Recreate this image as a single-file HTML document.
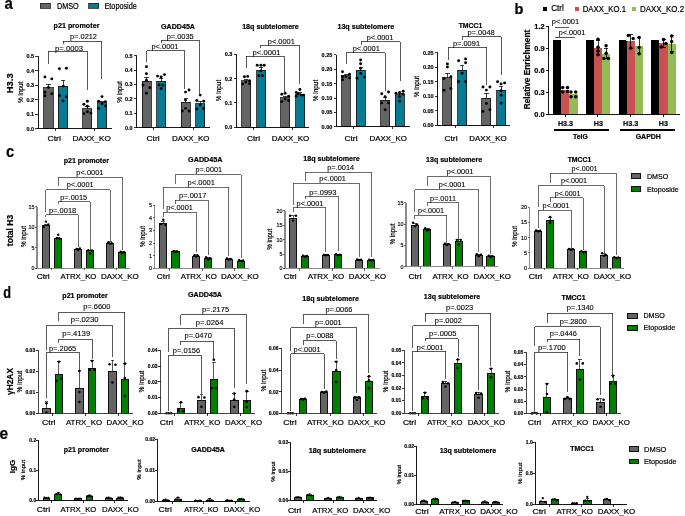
<!DOCTYPE html>
<html><head><meta charset="utf-8"><style>
html,body{margin:0;padding:0;background:#fff;}
svg{display:block;font-family:"Liberation Sans", sans-serif;will-change:transform;}
text{stroke:#000;stroke-width:0.2px;}
text.tk{stroke-width:0.15px;}
text.pv{stroke-width:0.1px;}
line,rect,path{shape-rendering:crispEdges;}
</style></head><body>
<svg width="685" height="516" viewBox="0 0 685 516">
<rect width="685" height="516" fill="#fff"/>
<text x="4.50" y="8.70" font-size="16" font-weight="bold" textLength="8.30" lengthAdjust="spacingAndGlyphs" fill="#000">a</text>
<text x="514.60" y="13.80" font-size="14.5" font-weight="bold" fill="#000">b</text>
<text x="6.10" y="157.20" font-size="16.2" font-weight="bold" textLength="8.20" lengthAdjust="spacingAndGlyphs" fill="#000">c</text>
<text x="3.20" y="297.90" font-size="15.8" font-weight="bold" textLength="7.80" lengthAdjust="spacingAndGlyphs" fill="#000">d</text>
<text x="-0.50" y="439.20" font-size="15.6" font-weight="bold" textLength="8.60" lengthAdjust="spacingAndGlyphs" fill="#000">e</text>
<rect x="40.40" y="3.40" width="10.00" height="5.00" fill="#646464" stroke="#222" stroke-width="0.8"/>
<text x="56.90" y="8.90" font-size="8.2" textLength="21.90" lengthAdjust="spacingAndGlyphs" fill="#000">DMSO</text>
<rect x="88.50" y="3.40" width="10.00" height="5.00" fill="#087b94" stroke="#222" stroke-width="0.8"/>
<text x="104.50" y="8.90" font-size="8.2" textLength="32.30" lengthAdjust="spacingAndGlyphs" fill="#000">Etoposide</text>
<text x="12.80" y="83.30" font-size="9.3" text-anchor="middle" font-weight="bold" transform="rotate(-90 12.80 83.30)" textLength="19.80" lengthAdjust="spacingAndGlyphs" fill="#000">H3.3</text>
<line x1="38.00" y1="56.10" x2="38.00" y2="129.00" stroke="#000" stroke-width="0.9"/>
<line x1="35.40" y1="128.60" x2="38.00" y2="128.60" stroke="#000" stroke-width="0.8"/>
<text x="34.20" y="130.58" font-size="5.5" text-anchor="end" font-weight="bold" class="tk" fill="#000">0.0</text>
<line x1="35.40" y1="114.10" x2="38.00" y2="114.10" stroke="#000" stroke-width="0.8"/>
<text x="34.20" y="116.08" font-size="5.5" text-anchor="end" font-weight="bold" class="tk" fill="#000">0.1</text>
<line x1="35.40" y1="99.60" x2="38.00" y2="99.60" stroke="#000" stroke-width="0.8"/>
<text x="34.20" y="101.58" font-size="5.5" text-anchor="end" font-weight="bold" class="tk" fill="#000">0.2</text>
<line x1="35.40" y1="85.10" x2="38.00" y2="85.10" stroke="#000" stroke-width="0.8"/>
<text x="34.20" y="87.08" font-size="5.5" text-anchor="end" font-weight="bold" class="tk" fill="#000">0.3</text>
<line x1="35.40" y1="70.60" x2="38.00" y2="70.60" stroke="#000" stroke-width="0.8"/>
<text x="34.20" y="72.58" font-size="5.5" text-anchor="end" font-weight="bold" class="tk" fill="#000">0.4</text>
<line x1="35.40" y1="56.10" x2="38.00" y2="56.10" stroke="#000" stroke-width="0.8"/>
<text x="34.20" y="58.08" font-size="5.5" text-anchor="end" font-weight="bold" class="tk" fill="#000">0.5</text>
<rect x="43.80" y="87.60" width="9.20" height="41.00" fill="#646464" stroke="#111" stroke-width="0.8"/>
<line x1="48.40" y1="87.60" x2="48.40" y2="84.30" stroke="#111" stroke-width="0.8"/>
<line x1="46.20" y1="84.30" x2="50.60" y2="84.30" stroke="#111" stroke-width="0.8"/>
<circle cx="44.90" cy="76.90" r="1.45" fill="#000"/>
<circle cx="51.80" cy="78.90" r="1.45" fill="#000"/>
<circle cx="48.40" cy="87.40" r="1.45" fill="#000"/>
<circle cx="44.90" cy="92.20" r="1.45" fill="#000"/>
<circle cx="51.80" cy="93.70" r="1.45" fill="#000"/>
<circle cx="44.90" cy="95.80" r="1.45" fill="#000"/>
<rect x="58.30" y="86.40" width="9.50" height="42.20" fill="#087b94" stroke="#111" stroke-width="0.8"/>
<line x1="63.05" y1="86.40" x2="63.05" y2="80.40" stroke="#111" stroke-width="0.8"/>
<line x1="60.85" y1="80.40" x2="65.25" y2="80.40" stroke="#111" stroke-width="0.8"/>
<circle cx="59.40" cy="68.70" r="1.45" fill="#000"/>
<circle cx="66.40" cy="68.20" r="1.45" fill="#000"/>
<circle cx="63.30" cy="86.10" r="1.45" fill="#000"/>
<circle cx="59.40" cy="95.60" r="1.45" fill="#000"/>
<circle cx="66.40" cy="96.80" r="1.45" fill="#000"/>
<circle cx="63.00" cy="100.90" r="1.45" fill="#000"/>
<rect x="82.80" y="108.60" width="9.00" height="20.00" fill="#646464" stroke="#111" stroke-width="0.8"/>
<line x1="87.30" y1="108.60" x2="87.30" y2="106.70" stroke="#111" stroke-width="0.8"/>
<line x1="85.10" y1="106.70" x2="89.50" y2="106.70" stroke="#111" stroke-width="0.8"/>
<circle cx="87.40" cy="101.20" r="1.45" fill="#000"/>
<circle cx="83.90" cy="104.30" r="1.45" fill="#000"/>
<circle cx="87.40" cy="106.30" r="1.45" fill="#000"/>
<circle cx="87.40" cy="111.70" r="1.45" fill="#000"/>
<circle cx="83.90" cy="113.60" r="1.45" fill="#000"/>
<circle cx="90.90" cy="113.10" r="1.45" fill="#000"/>
<rect x="97.60" y="102.80" width="9.00" height="25.80" fill="#087b94" stroke="#111" stroke-width="0.8"/>
<line x1="102.10" y1="102.80" x2="102.10" y2="101.40" stroke="#111" stroke-width="0.8"/>
<line x1="99.90" y1="101.40" x2="104.30" y2="101.40" stroke="#111" stroke-width="0.8"/>
<circle cx="102.00" cy="96.60" r="1.45" fill="#000"/>
<circle cx="98.60" cy="101.20" r="1.45" fill="#000"/>
<circle cx="105.40" cy="101.60" r="1.45" fill="#000"/>
<circle cx="102.00" cy="103.80" r="1.45" fill="#000"/>
<circle cx="105.40" cy="105.90" r="1.45" fill="#000"/>
<circle cx="98.60" cy="108.40" r="1.45" fill="#000"/>
<line x1="37.55" y1="128.60" x2="111.70" y2="128.60" stroke="#000" stroke-width="0.9"/>
<line x1="55.80" y1="128.60" x2="55.80" y2="131.20" stroke="#000" stroke-width="0.8"/>
<line x1="94.60" y1="128.60" x2="94.60" y2="131.20" stroke="#000" stroke-width="0.8"/>
<text x="54.20" y="140.80" font-size="7.3" text-anchor="middle" textLength="13.50" lengthAdjust="spacingAndGlyphs" fill="#000">Ctrl</text>
<text x="91.60" y="140.80" font-size="7.3" text-anchor="middle" textLength="38.40" lengthAdjust="spacingAndGlyphs" fill="#000">DAXX_KO</text>
<text x="76.50" y="27.60" font-size="7.5" text-anchor="middle" font-weight="bold" textLength="45.90" lengthAdjust="spacingAndGlyphs" fill="#000">p21 promoter</text>
<text x="23.30" y="92.30" font-size="6.6" text-anchor="middle" transform="rotate(-90 23.30 92.30)" textLength="21.50" lengthAdjust="spacingAndGlyphs" fill="#000">% input</text>
<path d="M48.40,64.00 L48.40,51.40 L87.30,51.40 L87.30,89.70" fill="none" stroke="#222" stroke-width="0.75"/>
<text x="69.00" y="50.50" font-size="7.7" text-anchor="middle" textLength="28.00" lengthAdjust="spacingAndGlyphs" class="pv" fill="#000">p=.0003</text>
<path d="M63.00,43.60 L63.00,41.00 L101.50,41.00 L101.50,79.20" fill="none" stroke="#222" stroke-width="0.75"/>
<text x="83.50" y="39.30" font-size="7.7" text-anchor="middle" textLength="27.00" lengthAdjust="spacingAndGlyphs" class="pv" fill="#000">p=.0212</text>
<line x1="136.50" y1="55.55" x2="136.50" y2="128.20" stroke="#000" stroke-width="0.9"/>
<line x1="133.90" y1="127.80" x2="136.50" y2="127.80" stroke="#000" stroke-width="0.8"/>
<text x="132.70" y="129.78" font-size="5.5" text-anchor="end" font-weight="bold" class="tk" fill="#000">0.0</text>
<line x1="133.90" y1="113.35" x2="136.50" y2="113.35" stroke="#000" stroke-width="0.8"/>
<text x="132.70" y="115.33" font-size="5.5" text-anchor="end" font-weight="bold" class="tk" fill="#000">0.1</text>
<line x1="133.90" y1="98.90" x2="136.50" y2="98.90" stroke="#000" stroke-width="0.8"/>
<text x="132.70" y="100.88" font-size="5.5" text-anchor="end" font-weight="bold" class="tk" fill="#000">0.2</text>
<line x1="133.90" y1="84.45" x2="136.50" y2="84.45" stroke="#000" stroke-width="0.8"/>
<text x="132.70" y="86.43" font-size="5.5" text-anchor="end" font-weight="bold" class="tk" fill="#000">0.3</text>
<line x1="133.90" y1="70.00" x2="136.50" y2="70.00" stroke="#000" stroke-width="0.8"/>
<text x="132.70" y="71.98" font-size="5.5" text-anchor="end" font-weight="bold" class="tk" fill="#000">0.4</text>
<line x1="133.90" y1="55.55" x2="136.50" y2="55.55" stroke="#000" stroke-width="0.8"/>
<text x="132.70" y="57.53" font-size="5.5" text-anchor="end" font-weight="bold" class="tk" fill="#000">0.5</text>
<rect x="142.10" y="81.10" width="8.90" height="46.70" fill="#646464" stroke="#111" stroke-width="0.8"/>
<line x1="146.55" y1="81.10" x2="146.55" y2="77.20" stroke="#111" stroke-width="0.8"/>
<line x1="144.35" y1="77.20" x2="148.75" y2="77.20" stroke="#111" stroke-width="0.8"/>
<circle cx="146.40" cy="66.80" r="1.45" fill="#000"/>
<circle cx="146.40" cy="73.80" r="1.45" fill="#000"/>
<circle cx="146.40" cy="80.30" r="1.45" fill="#000"/>
<circle cx="143.00" cy="85.00" r="1.45" fill="#000"/>
<circle cx="149.80" cy="87.80" r="1.45" fill="#000"/>
<circle cx="146.40" cy="93.30" r="1.45" fill="#000"/>
<rect x="156.60" y="81.30" width="9.00" height="46.50" fill="#087b94" stroke="#111" stroke-width="0.8"/>
<line x1="161.10" y1="81.30" x2="161.10" y2="78.40" stroke="#111" stroke-width="0.8"/>
<line x1="158.90" y1="78.40" x2="163.30" y2="78.40" stroke="#111" stroke-width="0.8"/>
<circle cx="157.60" cy="76.10" r="1.45" fill="#000"/>
<circle cx="161.10" cy="76.90" r="1.45" fill="#000"/>
<circle cx="164.50" cy="74.60" r="1.45" fill="#000"/>
<circle cx="159.10" cy="85.00" r="1.45" fill="#000"/>
<circle cx="162.80" cy="85.20" r="1.45" fill="#000"/>
<circle cx="161.10" cy="88.50" r="1.45" fill="#000"/>
<rect x="181.30" y="102.40" width="9.10" height="25.40" fill="#646464" stroke="#111" stroke-width="0.8"/>
<line x1="185.85" y1="102.40" x2="185.85" y2="98.60" stroke="#111" stroke-width="0.8"/>
<line x1="183.65" y1="98.60" x2="188.05" y2="98.60" stroke="#111" stroke-width="0.8"/>
<circle cx="185.50" cy="92.10" r="1.45" fill="#000"/>
<circle cx="189.00" cy="90.00" r="1.45" fill="#000"/>
<circle cx="185.50" cy="100.10" r="1.45" fill="#000"/>
<circle cx="185.50" cy="108.40" r="1.45" fill="#000"/>
<circle cx="182.30" cy="111.00" r="1.45" fill="#000"/>
<circle cx="189.00" cy="111.00" r="1.45" fill="#000"/>
<rect x="195.60" y="103.60" width="8.90" height="24.20" fill="#087b94" stroke="#111" stroke-width="0.8"/>
<line x1="200.05" y1="103.60" x2="200.05" y2="101.30" stroke="#111" stroke-width="0.8"/>
<line x1="197.85" y1="101.30" x2="202.25" y2="101.30" stroke="#111" stroke-width="0.8"/>
<circle cx="200.20" cy="95.10" r="1.45" fill="#000"/>
<circle cx="196.80" cy="100.50" r="1.45" fill="#000"/>
<circle cx="203.70" cy="101.30" r="1.45" fill="#000"/>
<circle cx="200.20" cy="105.00" r="1.45" fill="#000"/>
<circle cx="196.80" cy="108.90" r="1.45" fill="#000"/>
<circle cx="203.70" cy="108.40" r="1.45" fill="#000"/>
<line x1="136.05" y1="127.80" x2="209.80" y2="127.80" stroke="#000" stroke-width="0.9"/>
<line x1="153.80" y1="127.80" x2="153.80" y2="130.40" stroke="#000" stroke-width="0.8"/>
<line x1="193.20" y1="127.80" x2="193.20" y2="130.40" stroke="#000" stroke-width="0.8"/>
<text x="153.10" y="140.80" font-size="7.3" text-anchor="middle" textLength="13.10" lengthAdjust="spacingAndGlyphs" fill="#000">Ctrl</text>
<text x="190.80" y="140.80" font-size="7.3" text-anchor="middle" textLength="37.50" lengthAdjust="spacingAndGlyphs" fill="#000">DAXX_KO</text>
<text x="178.00" y="29.00" font-size="7.5" text-anchor="middle" font-weight="bold" textLength="34.00" lengthAdjust="spacingAndGlyphs" fill="#000">GADD45A</text>
<text x="121.70" y="92.00" font-size="6.6" text-anchor="middle" transform="rotate(-90 121.70 92.00)" textLength="21.50" lengthAdjust="spacingAndGlyphs" fill="#000">% input</text>
<path d="M146.60,62.40 L146.60,50.70 L184.90,50.70 L184.90,89.40" fill="none" stroke="#222" stroke-width="0.75"/>
<text x="165.00" y="49.00" font-size="7.7" text-anchor="middle" textLength="27.00" lengthAdjust="spacingAndGlyphs" class="pv" fill="#000">p&lt;.0001</text>
<path d="M161.00,43.20 L161.00,40.20 L199.30,40.20 L199.30,95.50" fill="none" stroke="#222" stroke-width="0.75"/>
<text x="180.20" y="38.90" font-size="7.7" text-anchor="middle" textLength="27.10" lengthAdjust="spacingAndGlyphs" class="pv" fill="#000">p=.0035</text>
<line x1="236.10" y1="54.45" x2="236.10" y2="127.60" stroke="#000" stroke-width="0.9"/>
<line x1="233.50" y1="127.20" x2="236.10" y2="127.20" stroke="#000" stroke-width="0.8"/>
<text x="232.30" y="129.18" font-size="5.5" text-anchor="end" font-weight="bold" class="tk" fill="#000">0.0</text>
<line x1="233.50" y1="102.95" x2="236.10" y2="102.95" stroke="#000" stroke-width="0.8"/>
<text x="232.30" y="104.93" font-size="5.5" text-anchor="end" font-weight="bold" class="tk" fill="#000">0.1</text>
<line x1="233.50" y1="78.70" x2="236.10" y2="78.70" stroke="#000" stroke-width="0.8"/>
<text x="232.30" y="80.68" font-size="5.5" text-anchor="end" font-weight="bold" class="tk" fill="#000">0.2</text>
<line x1="233.50" y1="54.45" x2="236.10" y2="54.45" stroke="#000" stroke-width="0.8"/>
<text x="232.30" y="56.43" font-size="5.5" text-anchor="end" font-weight="bold" class="tk" fill="#000">0.3</text>
<rect x="241.50" y="80.80" width="9.10" height="46.40" fill="#646464" stroke="#111" stroke-width="0.8"/>
<line x1="246.05" y1="80.80" x2="246.05" y2="79.20" stroke="#111" stroke-width="0.8"/>
<line x1="243.85" y1="79.20" x2="248.25" y2="79.20" stroke="#111" stroke-width="0.8"/>
<circle cx="244.40" cy="76.70" r="1.45" fill="#000"/>
<circle cx="247.70" cy="76.40" r="1.45" fill="#000"/>
<circle cx="245.80" cy="82.10" r="1.45" fill="#000"/>
<circle cx="249.50" cy="80.80" r="1.45" fill="#000"/>
<circle cx="242.70" cy="84.00" r="1.45" fill="#000"/>
<circle cx="249.50" cy="83.60" r="1.45" fill="#000"/>
<rect x="256.60" y="70.10" width="9.00" height="57.10" fill="#087b94" stroke="#111" stroke-width="0.8"/>
<line x1="261.10" y1="70.10" x2="261.10" y2="67.40" stroke="#111" stroke-width="0.8"/>
<line x1="258.90" y1="67.40" x2="263.30" y2="67.40" stroke="#111" stroke-width="0.8"/>
<circle cx="257.20" cy="65.30" r="1.45" fill="#000"/>
<circle cx="260.90" cy="65.30" r="1.45" fill="#000"/>
<circle cx="264.20" cy="65.30" r="1.45" fill="#000"/>
<circle cx="260.90" cy="70.90" r="1.45" fill="#000"/>
<circle cx="258.90" cy="75.70" r="1.45" fill="#000"/>
<circle cx="262.40" cy="75.70" r="1.45" fill="#000"/>
<rect x="280.50" y="97.80" width="9.10" height="29.40" fill="#646464" stroke="#111" stroke-width="0.8"/>
<line x1="285.05" y1="97.80" x2="285.05" y2="96.70" stroke="#111" stroke-width="0.8"/>
<line x1="282.85" y1="96.70" x2="287.25" y2="96.70" stroke="#111" stroke-width="0.8"/>
<circle cx="281.80" cy="94.30" r="1.45" fill="#000"/>
<circle cx="285.10" cy="93.30" r="1.45" fill="#000"/>
<circle cx="288.60" cy="96.30" r="1.45" fill="#000"/>
<circle cx="285.10" cy="99.00" r="1.45" fill="#000"/>
<circle cx="281.80" cy="101.60" r="1.45" fill="#000"/>
<circle cx="288.60" cy="100.50" r="1.45" fill="#000"/>
<rect x="295.60" y="94.30" width="9.00" height="32.90" fill="#087b94" stroke="#111" stroke-width="0.8"/>
<line x1="300.10" y1="94.30" x2="300.10" y2="92.60" stroke="#111" stroke-width="0.8"/>
<line x1="297.90" y1="92.60" x2="302.30" y2="92.60" stroke="#111" stroke-width="0.8"/>
<circle cx="299.90" cy="89.50" r="1.45" fill="#000"/>
<circle cx="296.20" cy="92.40" r="1.45" fill="#000"/>
<circle cx="298.30" cy="93.60" r="1.45" fill="#000"/>
<circle cx="301.40" cy="95.10" r="1.45" fill="#000"/>
<circle cx="303.40" cy="95.10" r="1.45" fill="#000"/>
<circle cx="296.20" cy="96.30" r="1.45" fill="#000"/>
<line x1="235.65" y1="127.20" x2="309.40" y2="127.20" stroke="#000" stroke-width="0.9"/>
<line x1="253.60" y1="127.20" x2="253.60" y2="129.80" stroke="#000" stroke-width="0.8"/>
<line x1="292.60" y1="127.20" x2="292.60" y2="129.80" stroke="#000" stroke-width="0.8"/>
<text x="253.50" y="140.80" font-size="7.3" text-anchor="middle" textLength="13.10" lengthAdjust="spacingAndGlyphs" fill="#000">Ctrl</text>
<text x="290.50" y="140.80" font-size="7.3" text-anchor="middle" textLength="37.70" lengthAdjust="spacingAndGlyphs" fill="#000">DAXX_KO</text>
<text x="270.50" y="29.30" font-size="7.5" text-anchor="middle" font-weight="bold" textLength="56.70" lengthAdjust="spacingAndGlyphs" fill="#000">18q subtelomere</text>
<text x="221.30" y="90.50" font-size="6.6" text-anchor="middle" transform="rotate(-90 221.30 90.50)" textLength="21.50" lengthAdjust="spacingAndGlyphs" fill="#000">% input</text>
<path d="M246.00,67.90 L246.00,56.20 L284.30,56.20 L284.30,94.00" fill="none" stroke="#222" stroke-width="0.75"/>
<text x="266.50" y="54.50" font-size="7.7" text-anchor="middle" textLength="27.90" lengthAdjust="spacingAndGlyphs" class="pv" fill="#000">p&lt;.0001</text>
<path d="M260.80,47.80 L260.80,45.40 L299.10,45.40 L299.10,83.60" fill="none" stroke="#222" stroke-width="0.75"/>
<text x="281.30" y="43.70" font-size="7.7" text-anchor="middle" textLength="27.10" lengthAdjust="spacingAndGlyphs" class="pv" fill="#000">p&lt;.0001</text>
<line x1="336.10" y1="54.80" x2="336.10" y2="127.20" stroke="#000" stroke-width="0.9"/>
<line x1="333.50" y1="126.80" x2="336.10" y2="126.80" stroke="#000" stroke-width="0.8"/>
<text x="332.30" y="128.78" font-size="5.5" text-anchor="end" font-weight="bold" class="tk" fill="#000">0.00</text>
<line x1="333.50" y1="112.40" x2="336.10" y2="112.40" stroke="#000" stroke-width="0.8"/>
<text x="332.30" y="114.38" font-size="5.5" text-anchor="end" font-weight="bold" class="tk" fill="#000">0.05</text>
<line x1="333.50" y1="98.00" x2="336.10" y2="98.00" stroke="#000" stroke-width="0.8"/>
<text x="332.30" y="99.98" font-size="5.5" text-anchor="end" font-weight="bold" class="tk" fill="#000">0.10</text>
<line x1="333.50" y1="83.60" x2="336.10" y2="83.60" stroke="#000" stroke-width="0.8"/>
<text x="332.30" y="85.58" font-size="5.5" text-anchor="end" font-weight="bold" class="tk" fill="#000">0.15</text>
<line x1="333.50" y1="69.20" x2="336.10" y2="69.20" stroke="#000" stroke-width="0.8"/>
<text x="332.30" y="71.18" font-size="5.5" text-anchor="end" font-weight="bold" class="tk" fill="#000">0.20</text>
<line x1="333.50" y1="54.80" x2="336.10" y2="54.80" stroke="#000" stroke-width="0.8"/>
<text x="332.30" y="56.78" font-size="5.5" text-anchor="end" font-weight="bold" class="tk" fill="#000">0.25</text>
<rect x="341.50" y="75.80" width="8.90" height="51.00" fill="#646464" stroke="#111" stroke-width="0.8"/>
<line x1="345.95" y1="75.80" x2="345.95" y2="74.80" stroke="#111" stroke-width="0.8"/>
<line x1="343.75" y1="74.80" x2="348.15" y2="74.80" stroke="#111" stroke-width="0.8"/>
<circle cx="342.50" cy="71.70" r="1.45" fill="#000"/>
<circle cx="349.50" cy="74.20" r="1.45" fill="#000"/>
<circle cx="342.50" cy="76.70" r="1.45" fill="#000"/>
<circle cx="345.90" cy="76.60" r="1.45" fill="#000"/>
<circle cx="349.50" cy="77.90" r="1.45" fill="#000"/>
<circle cx="342.50" cy="79.80" r="1.45" fill="#000"/>
<rect x="356.40" y="70.30" width="8.90" height="56.50" fill="#087b94" stroke="#111" stroke-width="0.8"/>
<line x1="360.85" y1="70.30" x2="360.85" y2="67.20" stroke="#111" stroke-width="0.8"/>
<line x1="358.65" y1="67.20" x2="363.05" y2="67.20" stroke="#111" stroke-width="0.8"/>
<circle cx="360.60" cy="60.00" r="1.45" fill="#000"/>
<circle cx="360.60" cy="63.70" r="1.45" fill="#000"/>
<circle cx="360.60" cy="68.30" r="1.45" fill="#000"/>
<circle cx="360.60" cy="73.40" r="1.45" fill="#000"/>
<circle cx="357.00" cy="78.30" r="1.45" fill="#000"/>
<circle cx="364.20" cy="77.10" r="1.45" fill="#000"/>
<rect x="380.50" y="100.30" width="9.10" height="26.50" fill="#646464" stroke="#111" stroke-width="0.8"/>
<line x1="385.05" y1="100.30" x2="385.05" y2="97.40" stroke="#111" stroke-width="0.8"/>
<line x1="382.85" y1="97.40" x2="387.25" y2="97.40" stroke="#111" stroke-width="0.8"/>
<circle cx="381.70" cy="93.80" r="1.45" fill="#000"/>
<circle cx="388.50" cy="92.00" r="1.45" fill="#000"/>
<circle cx="385.10" cy="96.70" r="1.45" fill="#000"/>
<circle cx="381.70" cy="102.90" r="1.45" fill="#000"/>
<circle cx="388.50" cy="102.90" r="1.45" fill="#000"/>
<circle cx="385.10" cy="109.80" r="1.45" fill="#000"/>
<rect x="395.40" y="94.70" width="8.90" height="32.10" fill="#087b94" stroke="#111" stroke-width="0.8"/>
<line x1="399.85" y1="94.70" x2="399.85" y2="93.80" stroke="#111" stroke-width="0.8"/>
<line x1="397.65" y1="93.80" x2="402.05" y2="93.80" stroke="#111" stroke-width="0.8"/>
<circle cx="396.00" cy="93.30" r="1.45" fill="#000"/>
<circle cx="399.60" cy="92.40" r="1.45" fill="#000"/>
<circle cx="403.20" cy="91.20" r="1.45" fill="#000"/>
<circle cx="403.20" cy="94.30" r="1.45" fill="#000"/>
<circle cx="399.60" cy="96.70" r="1.45" fill="#000"/>
<circle cx="399.60" cy="101.30" r="1.45" fill="#000"/>
<line x1="335.65" y1="126.80" x2="409.60" y2="126.80" stroke="#000" stroke-width="0.9"/>
<line x1="353.50" y1="126.80" x2="353.50" y2="129.40" stroke="#000" stroke-width="0.8"/>
<line x1="392.60" y1="126.80" x2="392.60" y2="129.40" stroke="#000" stroke-width="0.8"/>
<text x="351.00" y="140.80" font-size="7.3" text-anchor="middle" textLength="13.10" lengthAdjust="spacingAndGlyphs" fill="#000">Ctrl</text>
<text x="388.20" y="140.80" font-size="7.3" text-anchor="middle" textLength="37.30" lengthAdjust="spacingAndGlyphs" fill="#000">DAXX_KO</text>
<text x="365.80" y="29.00" font-size="7.5" text-anchor="middle" font-weight="bold" textLength="56.70" lengthAdjust="spacingAndGlyphs" fill="#000">13q subtelomere</text>
<text x="318.20" y="90.50" font-size="6.6" text-anchor="middle" transform="rotate(-90 318.20 90.50)" textLength="21.50" lengthAdjust="spacingAndGlyphs" fill="#000">% input</text>
<path d="M346.20,64.00 L346.20,52.50 L385.20,52.50 L385.20,91.00" fill="none" stroke="#222" stroke-width="0.75"/>
<text x="366.30" y="50.80" font-size="7.7" text-anchor="middle" textLength="27.20" lengthAdjust="spacingAndGlyphs" class="pv" fill="#000">p&lt;.0001</text>
<path d="M361.00,44.70 L361.00,41.90 L400.10,41.90 L400.10,80.70" fill="none" stroke="#222" stroke-width="0.75"/>
<text x="380.10" y="40.20" font-size="7.7" text-anchor="middle" textLength="26.60" lengthAdjust="spacingAndGlyphs" class="pv" fill="#000">p&lt;.0001</text>
<line x1="437.50" y1="52.90" x2="437.50" y2="125.80" stroke="#000" stroke-width="0.9"/>
<line x1="434.90" y1="125.40" x2="437.50" y2="125.40" stroke="#000" stroke-width="0.8"/>
<text x="433.70" y="127.38" font-size="5.5" text-anchor="end" font-weight="bold" class="tk" fill="#000">0.00</text>
<line x1="434.90" y1="110.90" x2="437.50" y2="110.90" stroke="#000" stroke-width="0.8"/>
<text x="433.70" y="112.88" font-size="5.5" text-anchor="end" font-weight="bold" class="tk" fill="#000">0.05</text>
<line x1="434.90" y1="96.40" x2="437.50" y2="96.40" stroke="#000" stroke-width="0.8"/>
<text x="433.70" y="98.38" font-size="5.5" text-anchor="end" font-weight="bold" class="tk" fill="#000">0.10</text>
<line x1="434.90" y1="81.90" x2="437.50" y2="81.90" stroke="#000" stroke-width="0.8"/>
<text x="433.70" y="83.88" font-size="5.5" text-anchor="end" font-weight="bold" class="tk" fill="#000">0.15</text>
<line x1="434.90" y1="67.40" x2="437.50" y2="67.40" stroke="#000" stroke-width="0.8"/>
<text x="433.70" y="69.38" font-size="5.5" text-anchor="end" font-weight="bold" class="tk" fill="#000">0.20</text>
<line x1="434.90" y1="52.90" x2="437.50" y2="52.90" stroke="#000" stroke-width="0.8"/>
<text x="433.70" y="54.88" font-size="5.5" text-anchor="end" font-weight="bold" class="tk" fill="#000">0.25</text>
<rect x="442.90" y="77.50" width="8.90" height="47.90" fill="#646464" stroke="#111" stroke-width="0.8"/>
<line x1="447.35" y1="77.50" x2="447.35" y2="73.40" stroke="#111" stroke-width="0.8"/>
<line x1="445.15" y1="73.40" x2="449.55" y2="73.40" stroke="#111" stroke-width="0.8"/>
<circle cx="447.40" cy="63.90" r="1.45" fill="#000"/>
<circle cx="447.40" cy="67.00" r="1.45" fill="#000"/>
<circle cx="444.00" cy="78.60" r="1.45" fill="#000"/>
<circle cx="450.90" cy="76.70" r="1.45" fill="#000"/>
<circle cx="444.00" cy="90.30" r="1.45" fill="#000"/>
<circle cx="450.90" cy="88.50" r="1.45" fill="#000"/>
<rect x="457.60" y="70.30" width="8.90" height="55.10" fill="#087b94" stroke="#111" stroke-width="0.8"/>
<line x1="462.05" y1="70.30" x2="462.05" y2="65.50" stroke="#111" stroke-width="0.8"/>
<line x1="459.85" y1="65.50" x2="464.25" y2="65.50" stroke="#111" stroke-width="0.8"/>
<circle cx="458.60" cy="60.80" r="1.45" fill="#000"/>
<circle cx="465.60" cy="58.90" r="1.45" fill="#000"/>
<circle cx="465.60" cy="62.80" r="1.45" fill="#000"/>
<circle cx="462.10" cy="73.20" r="1.45" fill="#000"/>
<circle cx="458.60" cy="81.70" r="1.45" fill="#000"/>
<circle cx="465.60" cy="81.70" r="1.45" fill="#000"/>
<rect x="481.90" y="98.40" width="8.90" height="27.00" fill="#646464" stroke="#111" stroke-width="0.8"/>
<line x1="486.35" y1="98.40" x2="486.35" y2="93.30" stroke="#111" stroke-width="0.8"/>
<line x1="484.15" y1="93.30" x2="488.55" y2="93.30" stroke="#111" stroke-width="0.8"/>
<circle cx="483.00" cy="87.00" r="1.45" fill="#000"/>
<circle cx="489.90" cy="87.00" r="1.45" fill="#000"/>
<circle cx="486.40" cy="90.10" r="1.45" fill="#000"/>
<circle cx="486.40" cy="103.40" r="1.45" fill="#000"/>
<circle cx="483.00" cy="111.40" r="1.45" fill="#000"/>
<circle cx="489.90" cy="109.80" r="1.45" fill="#000"/>
<rect x="496.60" y="90.10" width="8.90" height="35.30" fill="#087b94" stroke="#111" stroke-width="0.8"/>
<line x1="501.05" y1="90.10" x2="501.05" y2="86.20" stroke="#111" stroke-width="0.8"/>
<line x1="498.85" y1="86.20" x2="503.25" y2="86.20" stroke="#111" stroke-width="0.8"/>
<circle cx="497.60" cy="81.70" r="1.45" fill="#000"/>
<circle cx="501.10" cy="83.90" r="1.45" fill="#000"/>
<circle cx="504.60" cy="82.90" r="1.45" fill="#000"/>
<circle cx="501.10" cy="90.70" r="1.45" fill="#000"/>
<circle cx="501.10" cy="95.30" r="1.45" fill="#000"/>
<circle cx="501.10" cy="103.10" r="1.45" fill="#000"/>
<line x1="437.05" y1="125.40" x2="510.00" y2="125.40" stroke="#000" stroke-width="0.9"/>
<line x1="455.30" y1="125.40" x2="455.30" y2="128.00" stroke="#000" stroke-width="0.8"/>
<line x1="493.70" y1="125.40" x2="493.70" y2="128.00" stroke="#000" stroke-width="0.8"/>
<text x="451.00" y="140.80" font-size="7.3" text-anchor="middle" textLength="13.10" lengthAdjust="spacingAndGlyphs" fill="#000">Ctrl</text>
<text x="488.00" y="140.80" font-size="7.3" text-anchor="middle" textLength="37.50" lengthAdjust="spacingAndGlyphs" fill="#000">DAXX_KO</text>
<text x="470.50" y="27.50" font-size="7.5" text-anchor="middle" font-weight="bold" textLength="23.60" lengthAdjust="spacingAndGlyphs" fill="#000">TMCC1</text>
<text x="419.30" y="86.60" font-size="6.6" text-anchor="middle" transform="rotate(-90 419.30 86.60)" textLength="21.50" lengthAdjust="spacingAndGlyphs" fill="#000">% input</text>
<path d="M448.00,59.70 L448.00,47.20 L486.50,47.20 L486.50,85.00" fill="none" stroke="#222" stroke-width="0.75"/>
<text x="466.50" y="45.50" font-size="7.7" text-anchor="middle" textLength="27.10" lengthAdjust="spacingAndGlyphs" class="pv" fill="#000">p=.0091</text>
<path d="M462.30,40.30 L462.30,36.70 L501.00,36.70 L501.00,75.40" fill="none" stroke="#222" stroke-width="0.75"/>
<text x="481.10" y="35.00" font-size="7.7" text-anchor="middle" textLength="27.40" lengthAdjust="spacingAndGlyphs" class="pv" fill="#000">p=.0048</text>
<rect x="543.10" y="7.00" width="4.20" height="4.00" fill="#000"/>
<text x="551.20" y="10.60" font-size="8.2" textLength="12.70" lengthAdjust="spacingAndGlyphs" fill="#000">Ctrl</text>
<rect x="575.00" y="7.00" width="4.20" height="4.00" fill="#c85252"/>
<text x="582.70" y="11.70" font-size="8.4" textLength="43.40" lengthAdjust="spacingAndGlyphs" fill="#000">DAXX_KO.1</text>
<rect x="632.00" y="7.00" width="4.40" height="4.00" fill="#93bb55"/>
<text x="640.00" y="11.70" font-size="8.4" textLength="44.20" lengthAdjust="spacingAndGlyphs" fill="#000">DAXX_KO.2</text>
<text x="530.30" y="69.50" font-size="8.3" text-anchor="middle" font-weight="bold" transform="rotate(-90 530.30 69.50)" textLength="79.50" lengthAdjust="spacingAndGlyphs" fill="#000">Relative Enrichment</text>
<line x1="548.50" y1="26.94" x2="548.50" y2="114.70" stroke="#000" stroke-width="0.9"/>
<line x1="545.70" y1="114.30" x2="548.50" y2="114.30" stroke="#000" stroke-width="0.9"/>
<text x="544.50" y="116.80" font-size="7.0" text-anchor="end" font-weight="bold" textLength="10.20" lengthAdjust="spacingAndGlyphs" fill="#000">0.0</text>
<line x1="545.70" y1="92.46" x2="548.50" y2="92.46" stroke="#000" stroke-width="0.9"/>
<text x="544.50" y="94.96" font-size="7.0" text-anchor="end" font-weight="bold" textLength="10.20" lengthAdjust="spacingAndGlyphs" fill="#000">0.3</text>
<line x1="545.70" y1="70.62" x2="548.50" y2="70.62" stroke="#000" stroke-width="0.9"/>
<text x="544.50" y="73.12" font-size="7.0" text-anchor="end" font-weight="bold" textLength="10.20" lengthAdjust="spacingAndGlyphs" fill="#000">0.6</text>
<line x1="545.70" y1="48.78" x2="548.50" y2="48.78" stroke="#000" stroke-width="0.9"/>
<text x="544.50" y="51.28" font-size="7.0" text-anchor="end" font-weight="bold" textLength="10.20" lengthAdjust="spacingAndGlyphs" fill="#000">0.9</text>
<line x1="545.70" y1="26.94" x2="548.50" y2="26.94" stroke="#000" stroke-width="0.9"/>
<text x="544.50" y="29.44" font-size="7.0" text-anchor="end" font-weight="bold" textLength="10.20" lengthAdjust="spacingAndGlyphs" fill="#000">1.2</text>
<line x1="548.05" y1="114.30" x2="679.70" y2="114.30" stroke="#000" stroke-width="0.9"/>
<rect x="553.20" y="40.20" width="7.70" height="74.40" rx="0.9" fill="#000"/>
<rect x="560.90" y="89.80" width="8.40" height="24.50" fill="#c85252"/>
<circle cx="562.70" cy="87.60" r="1.75" fill="#000"/>
<circle cx="567.50" cy="87.40" r="1.75" fill="#000"/>
<circle cx="562.70" cy="91.90" r="1.75" fill="#000"/>
<circle cx="567.50" cy="91.40" r="1.75" fill="#000"/>
<rect x="569.30" y="94.10" width="8.60" height="20.20" fill="#93bb55"/>
<circle cx="571.00" cy="91.90" r="1.75" fill="#000"/>
<circle cx="575.70" cy="91.90" r="1.75" fill="#000"/>
<circle cx="571.00" cy="96.80" r="1.75" fill="#000"/>
<circle cx="575.70" cy="96.80" r="1.75" fill="#000"/>
<rect x="586.10" y="40.10" width="7.70" height="74.50" rx="0.9" fill="#000"/>
<rect x="593.80" y="48.10" width="8.40" height="66.20" fill="#c85252"/>
<line x1="598.00" y1="40.80" x2="598.00" y2="54.80" stroke="#000" stroke-width="0.8"/>
<line x1="596.00" y1="40.80" x2="600.00" y2="40.80" stroke="#000" stroke-width="0.8"/>
<line x1="596.00" y1="54.80" x2="600.00" y2="54.80" stroke="#000" stroke-width="0.8"/>
<circle cx="598.00" cy="39.20" r="1.75" fill="#000"/>
<circle cx="598.00" cy="47.20" r="1.75" fill="#000"/>
<circle cx="598.00" cy="51.00" r="1.75" fill="#000"/>
<circle cx="598.00" cy="54.80" r="1.75" fill="#000"/>
<rect x="602.20" y="54.20" width="8.20" height="60.10" fill="#93bb55"/>
<line x1="606.30" y1="48.30" x2="606.30" y2="58.50" stroke="#000" stroke-width="0.8"/>
<line x1="604.30" y1="48.30" x2="608.30" y2="48.30" stroke="#000" stroke-width="0.8"/>
<line x1="604.30" y1="58.50" x2="608.30" y2="58.50" stroke="#000" stroke-width="0.8"/>
<circle cx="606.10" cy="45.80" r="1.75" fill="#000"/>
<circle cx="606.10" cy="53.30" r="1.75" fill="#000"/>
<circle cx="603.80" cy="58.50" r="1.75" fill="#000"/>
<circle cx="608.40" cy="58.50" r="1.75" fill="#000"/>
<rect x="618.60" y="40.20" width="8.00" height="74.40" rx="0.9" fill="#000"/>
<rect x="626.60" y="41.00" width="8.50" height="73.30" fill="#c85252"/>
<line x1="630.85" y1="34.20" x2="630.85" y2="48.00" stroke="#000" stroke-width="0.8"/>
<line x1="628.85" y1="34.20" x2="632.85" y2="34.20" stroke="#000" stroke-width="0.8"/>
<line x1="628.85" y1="48.00" x2="632.85" y2="48.00" stroke="#000" stroke-width="0.8"/>
<circle cx="628.30" cy="35.60" r="1.75" fill="#000"/>
<circle cx="633.20" cy="38.40" r="1.75" fill="#000"/>
<circle cx="630.80" cy="48.00" r="1.75" fill="#000"/>
<rect x="635.10" y="46.30" width="8.20" height="68.00" fill="#93bb55"/>
<line x1="639.20" y1="37.60" x2="639.20" y2="53.80" stroke="#000" stroke-width="0.8"/>
<line x1="637.20" y1="37.60" x2="641.20" y2="37.60" stroke="#000" stroke-width="0.8"/>
<line x1="637.20" y1="53.80" x2="641.20" y2="53.80" stroke="#000" stroke-width="0.8"/>
<circle cx="639.10" cy="37.60" r="1.75" fill="#000"/>
<circle cx="639.10" cy="47.40" r="1.75" fill="#000"/>
<circle cx="639.10" cy="53.80" r="1.75" fill="#000"/>
<rect x="651.30" y="40.20" width="8.00" height="74.40" rx="0.9" fill="#000"/>
<rect x="659.30" y="43.40" width="8.50" height="70.90" fill="#c85252"/>
<line x1="663.55" y1="39.60" x2="663.55" y2="47.00" stroke="#000" stroke-width="0.8"/>
<line x1="661.55" y1="39.60" x2="665.55" y2="39.60" stroke="#000" stroke-width="0.8"/>
<line x1="661.55" y1="47.00" x2="665.55" y2="47.00" stroke="#000" stroke-width="0.8"/>
<circle cx="663.50" cy="39.60" r="1.75" fill="#000"/>
<circle cx="665.90" cy="43.50" r="1.75" fill="#000"/>
<circle cx="661.20" cy="46.90" r="1.75" fill="#000"/>
<rect x="667.80" y="43.70" width="8.20" height="70.60" fill="#93bb55"/>
<line x1="671.90" y1="35.50" x2="671.90" y2="51.80" stroke="#000" stroke-width="0.8"/>
<line x1="669.90" y1="35.50" x2="673.90" y2="35.50" stroke="#000" stroke-width="0.8"/>
<line x1="669.90" y1="51.80" x2="673.90" y2="51.80" stroke="#000" stroke-width="0.8"/>
<circle cx="671.70" cy="36.10" r="1.75" fill="#000"/>
<circle cx="671.70" cy="41.60" r="1.75" fill="#000"/>
<circle cx="671.70" cy="52.40" r="1.75" fill="#000"/>
<line x1="565.20" y1="114.30" x2="565.20" y2="117.30" stroke="#000" stroke-width="0.9"/>
<line x1="597.90" y1="114.30" x2="597.90" y2="117.30" stroke="#000" stroke-width="0.9"/>
<line x1="630.50" y1="114.30" x2="630.50" y2="117.30" stroke="#000" stroke-width="0.9"/>
<line x1="663.30" y1="114.30" x2="663.30" y2="117.30" stroke="#000" stroke-width="0.9"/>
<text x="565.50" y="126.00" font-size="7.8" text-anchor="middle" font-weight="bold" textLength="15.20" lengthAdjust="spacingAndGlyphs" class="tk" fill="#000">H3.3</text>
<text x="598.30" y="126.00" font-size="7.8" text-anchor="middle" font-weight="bold" textLength="9.20" lengthAdjust="spacingAndGlyphs" class="tk" fill="#000">H3</text>
<text x="630.70" y="126.00" font-size="7.8" text-anchor="middle" font-weight="bold" textLength="15.20" lengthAdjust="spacingAndGlyphs" class="tk" fill="#000">H3.3</text>
<text x="663.30" y="126.00" font-size="7.8" text-anchor="middle" font-weight="bold" textLength="9.20" lengthAdjust="spacingAndGlyphs" class="tk" fill="#000">H3</text>
<line x1="553.80" y1="130.00" x2="609.30" y2="130.00" stroke="#000" stroke-width="1.5"/>
<line x1="619.50" y1="130.00" x2="674.70" y2="130.00" stroke="#000" stroke-width="1.5"/>
<text x="580.50" y="139.30" font-size="7.2" text-anchor="middle" font-weight="bold" textLength="14.80" lengthAdjust="spacingAndGlyphs" fill="#000">TelG</text>
<text x="648.30" y="139.30" font-size="7.2" text-anchor="middle" font-weight="bold" textLength="25.20" lengthAdjust="spacingAndGlyphs" fill="#000">GAPDH</text>
<text x="565.50" y="24.00" font-size="7.4" text-anchor="middle" textLength="27.30" lengthAdjust="spacingAndGlyphs" class="pv" fill="#000">p&lt;.0001</text>
<line x1="555.10" y1="27.20" x2="568.70" y2="27.20" stroke="#333" stroke-width="0.8"/>
<text x="572.00" y="35.10" font-size="7.4" text-anchor="middle" textLength="26.40" lengthAdjust="spacingAndGlyphs" class="pv" fill="#000">p&lt;.0001</text>
<line x1="555.10" y1="37.50" x2="575.00" y2="37.50" stroke="#333" stroke-width="0.8"/>
<text x="13.40" y="230.50" font-size="8.6" text-anchor="middle" font-weight="bold" transform="rotate(-90 13.40 230.50)" textLength="31.40" lengthAdjust="spacingAndGlyphs" fill="#000">total H3</text>
<rect x="631.30" y="173.90" width="9.50" height="4.80" fill="#646464" stroke="#111" stroke-width="1.0"/>
<text x="646.90" y="179.20" font-size="8.0" textLength="21.30" lengthAdjust="spacingAndGlyphs" fill="#000">DMSO</text>
<rect x="631.30" y="186.30" width="9.50" height="4.80" fill="#008000" stroke="#111" stroke-width="1.0"/>
<text x="646.90" y="191.60" font-size="8.0" textLength="31.90" lengthAdjust="spacingAndGlyphs" fill="#000">Etoposide</text>
<line x1="37.00" y1="206.90" x2="37.00" y2="268.50" stroke="#8c8c8c" stroke-width="1.2"/>
<line x1="35.40" y1="268.10" x2="37.00" y2="268.10" stroke="#444" stroke-width="0.8"/>
<text x="34.60" y="270.04" font-size="5.4" text-anchor="end" class="tk" fill="#000">0</text>
<line x1="35.40" y1="247.70" x2="37.00" y2="247.70" stroke="#444" stroke-width="0.8"/>
<text x="34.60" y="249.64" font-size="5.4" text-anchor="end" class="tk" fill="#000">5</text>
<line x1="35.40" y1="227.30" x2="37.00" y2="227.30" stroke="#444" stroke-width="0.8"/>
<text x="34.60" y="229.24" font-size="5.4" text-anchor="end" class="tk" fill="#000">10</text>
<line x1="35.40" y1="206.90" x2="37.00" y2="206.90" stroke="#444" stroke-width="0.8"/>
<text x="34.60" y="208.84" font-size="5.4" text-anchor="end" class="tk" fill="#000">15</text>
<rect x="42.40" y="225.67" width="7.10" height="42.43" fill="#646464" stroke="#111" stroke-width="1.0"/>
<line x1="45.95" y1="225.67" x2="45.95" y2="224.44" stroke="#111" stroke-width="0.7"/>
<line x1="44.15" y1="224.44" x2="47.75" y2="224.44" stroke="#111" stroke-width="0.7"/>
<circle cx="45.95" cy="221.59" r="1.2" fill="#000"/>
<circle cx="43.75" cy="226.89" r="1.2" fill="#000"/>
<circle cx="48.25" cy="224.44" r="1.2" fill="#000"/>
<rect x="54.70" y="238.32" width="7.10" height="29.78" fill="#008000" stroke="#111" stroke-width="1.0"/>
<line x1="58.25" y1="238.32" x2="58.25" y2="237.50" stroke="#111" stroke-width="0.7"/>
<line x1="56.45" y1="237.50" x2="60.05" y2="237.50" stroke="#111" stroke-width="0.7"/>
<circle cx="58.25" cy="234.64" r="1.2" fill="#000"/>
<circle cx="56.75" cy="238.32" r="1.2" fill="#000"/>
<circle cx="59.75" cy="238.72" r="1.2" fill="#000"/>
<rect x="74.40" y="249.33" width="7.40" height="18.77" fill="#646464" stroke="#111" stroke-width="1.0"/>
<line x1="78.10" y1="249.33" x2="78.10" y2="248.72" stroke="#111" stroke-width="0.7"/>
<line x1="76.30" y1="248.72" x2="79.90" y2="248.72" stroke="#111" stroke-width="0.7"/>
<circle cx="76.60" cy="248.92" r="1.2" fill="#000"/>
<circle cx="79.90" cy="248.52" r="1.2" fill="#000"/>
<circle cx="78.10" cy="249.74" r="1.2" fill="#000"/>
<rect x="86.60" y="250.96" width="7.10" height="17.14" fill="#008000" stroke="#111" stroke-width="1.0"/>
<line x1="90.15" y1="250.96" x2="90.15" y2="250.15" stroke="#111" stroke-width="0.7"/>
<line x1="88.35" y1="250.15" x2="91.95" y2="250.15" stroke="#111" stroke-width="0.7"/>
<circle cx="88.35" cy="250.15" r="1.2" fill="#000"/>
<circle cx="91.95" cy="250.56" r="1.2" fill="#000"/>
<circle cx="90.15" cy="253.41" r="1.2" fill="#000"/>
<rect x="106.30" y="243.21" width="7.30" height="24.89" fill="#646464" stroke="#111" stroke-width="1.0"/>
<line x1="109.95" y1="243.21" x2="109.95" y2="241.99" stroke="#111" stroke-width="0.7"/>
<line x1="108.15" y1="241.99" x2="111.75" y2="241.99" stroke="#111" stroke-width="0.7"/>
<circle cx="108.15" cy="242.40" r="1.2" fill="#000"/>
<circle cx="111.75" cy="243.21" r="1.2" fill="#000"/>
<circle cx="109.95" cy="243.62" r="1.2" fill="#000"/>
<rect x="118.90" y="252.60" width="7.00" height="15.50" fill="#008000" stroke="#111" stroke-width="1.0"/>
<line x1="122.40" y1="252.60" x2="122.40" y2="251.78" stroke="#111" stroke-width="0.7"/>
<line x1="120.60" y1="251.78" x2="124.20" y2="251.78" stroke="#111" stroke-width="0.7"/>
<circle cx="120.60" cy="251.78" r="1.2" fill="#000"/>
<circle cx="124.20" cy="252.19" r="1.2" fill="#000"/>
<circle cx="122.40" cy="253.00" r="1.2" fill="#000"/>
<line x1="36.55" y1="268.10" x2="130.10" y2="268.10" stroke="#8c8c8c" stroke-width="1.2"/>
<line x1="51.80" y1="268.10" x2="51.80" y2="270.30" stroke="#444" stroke-width="0.8"/>
<line x1="84.10" y1="268.10" x2="84.10" y2="270.30" stroke="#444" stroke-width="0.8"/>
<line x1="116.60" y1="268.10" x2="116.60" y2="270.30" stroke="#444" stroke-width="0.8"/>
<text x="43.20" y="279.20" font-size="7.9" text-anchor="middle" textLength="13.10" lengthAdjust="spacingAndGlyphs" fill="#000">Ctrl</text>
<text x="78.50" y="279.20" font-size="7.9" text-anchor="middle" textLength="35.90" lengthAdjust="spacingAndGlyphs" fill="#000">ATRX_KO</text>
<text x="119.90" y="279.20" font-size="7.9" text-anchor="middle" textLength="37.90" lengthAdjust="spacingAndGlyphs" fill="#000">DAXX_KO</text>
<text x="86.30" y="162.60" font-size="7.5" text-anchor="middle" font-weight="bold" textLength="45.30" lengthAdjust="spacingAndGlyphs" fill="#000">p21 promoter</text>
<text x="26.00" y="236.50" font-size="6.5" text-anchor="middle" transform="rotate(-90 26.00 236.50)" textLength="21.00" lengthAdjust="spacingAndGlyphs" fill="#000">% input</text>
<path d="M45.90,216.80 L45.90,214.50 L78.10,214.50 L78.10,247.10" fill="none" stroke="#3a3a3a" stroke-width="0.75"/>
<text x="62.60" y="212.50" font-size="7.9" text-anchor="middle" textLength="27.40" lengthAdjust="spacingAndGlyphs" class="pv" fill="#000">p=.0018</text>
<path d="M58.20,204.00 L58.20,201.60 L90.10,201.60 L90.10,249.70" fill="none" stroke="#3a3a3a" stroke-width="0.75"/>
<text x="73.70" y="199.60" font-size="7.9" text-anchor="middle" textLength="27.10" lengthAdjust="spacingAndGlyphs" class="pv" fill="#000">p=.0015</text>
<path d="M45.90,211.60 L45.90,189.70 L110.00,189.70 L110.00,241.00" fill="none" stroke="#3a3a3a" stroke-width="0.75"/>
<text x="80.20" y="187.10" font-size="7.9" text-anchor="middle" textLength="26.90" lengthAdjust="spacingAndGlyphs" class="pv" fill="#000">p&lt;.0001</text>
<path d="M58.20,186.20 L58.20,177.20 L122.40,177.20 L122.40,250.00" fill="none" stroke="#3a3a3a" stroke-width="0.75"/>
<text x="89.90" y="174.60" font-size="7.9" text-anchor="middle" textLength="27.20" lengthAdjust="spacingAndGlyphs" class="pv" fill="#000">p&lt;.0001</text>
<line x1="154.50" y1="205.20" x2="154.50" y2="268.80" stroke="#8c8c8c" stroke-width="1.2"/>
<line x1="152.90" y1="268.40" x2="154.50" y2="268.40" stroke="#444" stroke-width="0.8"/>
<text x="152.10" y="270.34" font-size="5.4" text-anchor="end" class="tk" fill="#000">0</text>
<line x1="152.90" y1="255.76" x2="154.50" y2="255.76" stroke="#444" stroke-width="0.8"/>
<text x="152.10" y="257.70" font-size="5.4" text-anchor="end" class="tk" fill="#000">1</text>
<line x1="152.90" y1="243.12" x2="154.50" y2="243.12" stroke="#444" stroke-width="0.8"/>
<text x="152.10" y="245.06" font-size="5.4" text-anchor="end" class="tk" fill="#000">2</text>
<line x1="152.90" y1="230.48" x2="154.50" y2="230.48" stroke="#444" stroke-width="0.8"/>
<text x="152.10" y="232.42" font-size="5.4" text-anchor="end" class="tk" fill="#000">3</text>
<line x1="152.90" y1="217.84" x2="154.50" y2="217.84" stroke="#444" stroke-width="0.8"/>
<text x="152.10" y="219.78" font-size="5.4" text-anchor="end" class="tk" fill="#000">4</text>
<line x1="152.90" y1="205.20" x2="154.50" y2="205.20" stroke="#444" stroke-width="0.8"/>
<text x="152.10" y="207.14" font-size="5.4" text-anchor="end" class="tk" fill="#000">5</text>
<rect x="159.60" y="223.53" width="7.30" height="44.87" fill="#646464" stroke="#111" stroke-width="1.0"/>
<line x1="163.25" y1="223.53" x2="163.25" y2="221.63" stroke="#111" stroke-width="0.7"/>
<line x1="161.45" y1="221.63" x2="165.05" y2="221.63" stroke="#111" stroke-width="0.7"/>
<circle cx="163.25" cy="219.74" r="1.2" fill="#000"/>
<circle cx="161.05" cy="224.16" r="1.2" fill="#000"/>
<circle cx="165.45" cy="224.79" r="1.2" fill="#000"/>
<rect x="171.60" y="251.97" width="7.50" height="16.43" fill="#008000" stroke="#111" stroke-width="1.0"/>
<line x1="175.35" y1="251.97" x2="175.35" y2="250.96" stroke="#111" stroke-width="0.7"/>
<line x1="173.55" y1="250.96" x2="177.15" y2="250.96" stroke="#111" stroke-width="0.7"/>
<circle cx="173.35" cy="251.21" r="1.2" fill="#000"/>
<circle cx="177.35" cy="251.46" r="1.2" fill="#000"/>
<circle cx="175.35" cy="251.97" r="1.2" fill="#000"/>
<rect x="192.60" y="256.14" width="7.10" height="12.26" fill="#646464" stroke="#111" stroke-width="1.0"/>
<line x1="196.15" y1="256.14" x2="196.15" y2="254.88" stroke="#111" stroke-width="0.7"/>
<line x1="194.35" y1="254.88" x2="197.95" y2="254.88" stroke="#111" stroke-width="0.7"/>
<circle cx="194.35" cy="255.13" r="1.2" fill="#000"/>
<circle cx="197.95" cy="255.76" r="1.2" fill="#000"/>
<circle cx="196.15" cy="256.39" r="1.2" fill="#000"/>
<rect x="204.40" y="258.92" width="7.50" height="9.48" fill="#008000" stroke="#111" stroke-width="1.0"/>
<line x1="208.15" y1="258.92" x2="208.15" y2="257.53" stroke="#111" stroke-width="0.7"/>
<line x1="206.35" y1="257.53" x2="209.95" y2="257.53" stroke="#111" stroke-width="0.7"/>
<circle cx="206.15" cy="257.28" r="1.2" fill="#000"/>
<circle cx="210.15" cy="258.29" r="1.2" fill="#000"/>
<circle cx="208.15" cy="259.55" r="1.2" fill="#000"/>
<rect x="225.20" y="259.30" width="7.20" height="9.10" fill="#646464" stroke="#111" stroke-width="1.0"/>
<line x1="228.80" y1="259.30" x2="228.80" y2="258.54" stroke="#111" stroke-width="0.7"/>
<line x1="227.00" y1="258.54" x2="230.60" y2="258.54" stroke="#111" stroke-width="0.7"/>
<circle cx="226.80" cy="258.54" r="1.2" fill="#000"/>
<circle cx="230.80" cy="259.05" r="1.2" fill="#000"/>
<circle cx="228.80" cy="259.55" r="1.2" fill="#000"/>
<rect x="237.50" y="261.07" width="7.10" height="7.33" fill="#008000" stroke="#111" stroke-width="1.0"/>
<line x1="241.05" y1="261.07" x2="241.05" y2="260.06" stroke="#111" stroke-width="0.7"/>
<line x1="239.25" y1="260.06" x2="242.85" y2="260.06" stroke="#111" stroke-width="0.7"/>
<circle cx="239.05" cy="260.18" r="1.2" fill="#000"/>
<circle cx="243.05" cy="260.56" r="1.2" fill="#000"/>
<circle cx="241.05" cy="261.07" r="1.2" fill="#000"/>
<line x1="154.05" y1="268.40" x2="249.20" y2="268.40" stroke="#8c8c8c" stroke-width="1.2"/>
<line x1="169.30" y1="268.40" x2="169.30" y2="270.60" stroke="#444" stroke-width="0.8"/>
<line x1="202.10" y1="268.40" x2="202.10" y2="270.60" stroke="#444" stroke-width="0.8"/>
<line x1="234.90" y1="268.40" x2="234.90" y2="270.60" stroke="#444" stroke-width="0.8"/>
<text x="163.30" y="279.20" font-size="7.9" text-anchor="middle" textLength="12.90" lengthAdjust="spacingAndGlyphs" fill="#000">Ctrl</text>
<text x="198.80" y="279.20" font-size="7.9" text-anchor="middle" textLength="36.10" lengthAdjust="spacingAndGlyphs" fill="#000">ATRX_KO</text>
<text x="239.90" y="279.20" font-size="7.9" text-anchor="middle" textLength="37.80" lengthAdjust="spacingAndGlyphs" fill="#000">DAXX_KO</text>
<text x="205.30" y="161.60" font-size="7.5" text-anchor="middle" font-weight="bold" textLength="34.40" lengthAdjust="spacingAndGlyphs" fill="#000">GADD45A</text>
<text x="145.20" y="236.60" font-size="6.5" text-anchor="middle" transform="rotate(-90 145.20 236.60)" textLength="21.00" lengthAdjust="spacingAndGlyphs" fill="#000">% input</text>
<path d="M163.20,216.50 L163.20,212.40 L196.20,212.40 L196.20,252.00" fill="none" stroke="#3a3a3a" stroke-width="0.75"/>
<text x="179.50" y="210.40" font-size="7.9" text-anchor="middle" textLength="26.70" lengthAdjust="spacingAndGlyphs" class="pv" fill="#000">p&lt;.0001</text>
<path d="M175.40,203.70 L175.40,200.20 L208.20,200.20 L208.20,255.00" fill="none" stroke="#3a3a3a" stroke-width="0.75"/>
<text x="192.70" y="198.20" font-size="7.9" text-anchor="middle" textLength="27.50" lengthAdjust="spacingAndGlyphs" class="pv" fill="#000">p=.0017</text>
<path d="M163.20,208.60 L163.20,187.10 L228.80,187.10 L228.80,256.00" fill="none" stroke="#3a3a3a" stroke-width="0.75"/>
<text x="201.30" y="184.50" font-size="7.9" text-anchor="middle" textLength="27.40" lengthAdjust="spacingAndGlyphs" class="pv" fill="#000">p&lt;.0001</text>
<path d="M175.40,183.60 L175.40,174.60 L241.00,174.60 L241.00,257.50" fill="none" stroke="#3a3a3a" stroke-width="0.75"/>
<text x="208.80" y="172.00" font-size="7.9" text-anchor="middle" textLength="26.70" lengthAdjust="spacingAndGlyphs" class="pv" fill="#000">p=.0001</text>
<line x1="285.00" y1="210.80" x2="285.00" y2="268.80" stroke="#8c8c8c" stroke-width="1.2"/>
<line x1="283.40" y1="268.40" x2="285.00" y2="268.40" stroke="#444" stroke-width="0.8"/>
<text x="282.60" y="270.34" font-size="5.4" text-anchor="end" class="tk" fill="#000">0</text>
<line x1="283.40" y1="254.00" x2="285.00" y2="254.00" stroke="#444" stroke-width="0.8"/>
<text x="282.60" y="255.94" font-size="5.4" text-anchor="end" class="tk" fill="#000">5</text>
<line x1="283.40" y1="239.60" x2="285.00" y2="239.60" stroke="#444" stroke-width="0.8"/>
<text x="282.60" y="241.54" font-size="5.4" text-anchor="end" class="tk" fill="#000">10</text>
<line x1="283.40" y1="225.20" x2="285.00" y2="225.20" stroke="#444" stroke-width="0.8"/>
<text x="282.60" y="227.14" font-size="5.4" text-anchor="end" class="tk" fill="#000">15</text>
<line x1="283.40" y1="210.80" x2="285.00" y2="210.80" stroke="#444" stroke-width="0.8"/>
<text x="282.60" y="212.74" font-size="5.4" text-anchor="end" class="tk" fill="#000">20</text>
<rect x="289.50" y="218.29" width="7.10" height="50.11" fill="#646464" stroke="#111" stroke-width="1.0"/>
<line x1="293.05" y1="218.29" x2="293.05" y2="215.70" stroke="#111" stroke-width="0.7"/>
<line x1="291.25" y1="215.70" x2="294.85" y2="215.70" stroke="#111" stroke-width="0.7"/>
<circle cx="290.15" cy="215.70" r="1.2" fill="#000"/>
<circle cx="295.95" cy="215.70" r="1.2" fill="#000"/>
<circle cx="293.05" cy="220.59" r="1.2" fill="#000"/>
<rect x="301.40" y="256.59" width="7.30" height="11.81" fill="#008000" stroke="#111" stroke-width="1.0"/>
<line x1="305.05" y1="256.59" x2="305.05" y2="255.73" stroke="#111" stroke-width="0.7"/>
<line x1="303.25" y1="255.73" x2="306.85" y2="255.73" stroke="#111" stroke-width="0.7"/>
<circle cx="303.05" cy="255.73" r="1.2" fill="#000"/>
<circle cx="307.05" cy="256.02" r="1.2" fill="#000"/>
<circle cx="305.05" cy="256.88" r="1.2" fill="#000"/>
<rect x="322.30" y="255.15" width="7.30" height="13.25" fill="#646464" stroke="#111" stroke-width="1.0"/>
<line x1="325.95" y1="255.15" x2="325.95" y2="254.58" stroke="#111" stroke-width="0.7"/>
<line x1="324.15" y1="254.58" x2="327.75" y2="254.58" stroke="#111" stroke-width="0.7"/>
<circle cx="323.95" cy="254.86" r="1.2" fill="#000"/>
<circle cx="327.95" cy="254.86" r="1.2" fill="#000"/>
<circle cx="325.95" cy="255.15" r="1.2" fill="#000"/>
<rect x="334.60" y="254.86" width="6.90" height="13.54" fill="#008000" stroke="#111" stroke-width="1.0"/>
<line x1="338.05" y1="254.86" x2="338.05" y2="254.00" stroke="#111" stroke-width="0.7"/>
<line x1="336.25" y1="254.00" x2="339.85" y2="254.00" stroke="#111" stroke-width="0.7"/>
<circle cx="336.05" cy="254.29" r="1.2" fill="#000"/>
<circle cx="340.05" cy="254.58" r="1.2" fill="#000"/>
<circle cx="338.05" cy="255.15" r="1.2" fill="#000"/>
<rect x="355.50" y="260.05" width="7.10" height="8.35" fill="#646464" stroke="#111" stroke-width="1.0"/>
<line x1="359.05" y1="260.05" x2="359.05" y2="259.47" stroke="#111" stroke-width="0.7"/>
<line x1="357.25" y1="259.47" x2="360.85" y2="259.47" stroke="#111" stroke-width="0.7"/>
<circle cx="357.05" cy="259.47" r="1.2" fill="#000"/>
<circle cx="361.05" cy="259.76" r="1.2" fill="#000"/>
<circle cx="359.05" cy="260.05" r="1.2" fill="#000"/>
<rect x="367.70" y="260.34" width="7.10" height="8.06" fill="#008000" stroke="#111" stroke-width="1.0"/>
<line x1="371.25" y1="260.34" x2="371.25" y2="259.76" stroke="#111" stroke-width="0.7"/>
<line x1="369.45" y1="259.76" x2="373.05" y2="259.76" stroke="#111" stroke-width="0.7"/>
<circle cx="369.25" cy="259.76" r="1.2" fill="#000"/>
<circle cx="373.25" cy="260.05" r="1.2" fill="#000"/>
<circle cx="371.25" cy="260.34" r="1.2" fill="#000"/>
<line x1="284.55" y1="268.40" x2="379.70" y2="268.40" stroke="#8c8c8c" stroke-width="1.2"/>
<line x1="299.50" y1="268.40" x2="299.50" y2="270.60" stroke="#444" stroke-width="0.8"/>
<line x1="332.10" y1="268.40" x2="332.10" y2="270.60" stroke="#444" stroke-width="0.8"/>
<line x1="364.90" y1="268.40" x2="364.90" y2="270.60" stroke="#444" stroke-width="0.8"/>
<text x="290.20" y="279.20" font-size="7.9" text-anchor="middle" textLength="12.90" lengthAdjust="spacingAndGlyphs" fill="#000">Ctrl</text>
<text x="326.00" y="279.20" font-size="7.9" text-anchor="middle" textLength="36.60" lengthAdjust="spacingAndGlyphs" fill="#000">ATRX_KO</text>
<text x="367.50" y="279.20" font-size="7.9" text-anchor="middle" textLength="37.40" lengthAdjust="spacingAndGlyphs" fill="#000">DAXX_KO</text>
<text x="331.50" y="161.20" font-size="7.5" text-anchor="middle" font-weight="bold" textLength="56.50" lengthAdjust="spacingAndGlyphs" fill="#000">18q subtelomere</text>
<text x="272.40" y="239.30" font-size="6.5" text-anchor="middle" transform="rotate(-90 272.40 239.30)" textLength="21.00" lengthAdjust="spacingAndGlyphs" fill="#000">% input</text>
<path d="M293.00,211.60 L293.00,207.70 L325.90,207.70 L325.90,251.50" fill="none" stroke="#3a3a3a" stroke-width="0.75"/>
<text x="310.00" y="205.70" font-size="7.9" text-anchor="middle" textLength="26.80" lengthAdjust="spacingAndGlyphs" class="pv" fill="#000">p&lt;.0001</text>
<path d="M305.00,199.30 L305.00,196.20 L338.00,196.20 L338.00,251.00" fill="none" stroke="#3a3a3a" stroke-width="0.75"/>
<text x="322.80" y="194.60" font-size="7.9" text-anchor="middle" textLength="27.20" lengthAdjust="spacingAndGlyphs" class="pv" fill="#000">p=.0993</text>
<path d="M293.00,204.60 L293.00,183.30 L359.00,183.30 L359.00,256.50" fill="none" stroke="#3a3a3a" stroke-width="0.75"/>
<text x="332.60" y="180.70" font-size="7.9" text-anchor="middle" textLength="26.60" lengthAdjust="spacingAndGlyphs" class="pv" fill="#000">p&lt;.0001</text>
<path d="M305.00,180.50 L305.00,172.40 L371.20,172.40 L371.20,257.00" fill="none" stroke="#3a3a3a" stroke-width="0.75"/>
<text x="340.70" y="169.80" font-size="7.9" text-anchor="middle" textLength="27.00" lengthAdjust="spacingAndGlyphs" class="pv" fill="#000">p=.0014</text>
<line x1="406.00" y1="202.60" x2="406.00" y2="267.20" stroke="#8c8c8c" stroke-width="1.2"/>
<line x1="404.40" y1="266.80" x2="406.00" y2="266.80" stroke="#444" stroke-width="0.8"/>
<text x="403.60" y="268.74" font-size="5.4" text-anchor="end" class="tk" fill="#000">0</text>
<line x1="404.40" y1="245.40" x2="406.00" y2="245.40" stroke="#444" stroke-width="0.8"/>
<text x="403.60" y="247.34" font-size="5.4" text-anchor="end" class="tk" fill="#000">5</text>
<line x1="404.40" y1="224.00" x2="406.00" y2="224.00" stroke="#444" stroke-width="0.8"/>
<text x="403.60" y="225.94" font-size="5.4" text-anchor="end" class="tk" fill="#000">10</text>
<line x1="404.40" y1="202.60" x2="406.00" y2="202.60" stroke="#444" stroke-width="0.8"/>
<text x="403.60" y="204.54" font-size="5.4" text-anchor="end" class="tk" fill="#000">15</text>
<rect x="411.40" y="225.28" width="7.40" height="41.52" fill="#646464" stroke="#111" stroke-width="1.0"/>
<line x1="415.10" y1="225.28" x2="415.10" y2="223.57" stroke="#111" stroke-width="0.7"/>
<line x1="413.30" y1="223.57" x2="416.90" y2="223.57" stroke="#111" stroke-width="0.7"/>
<circle cx="413.10" cy="222.72" r="1.2" fill="#000"/>
<circle cx="417.10" cy="224.43" r="1.2" fill="#000"/>
<circle cx="415.10" cy="226.14" r="1.2" fill="#000"/>
<rect x="423.60" y="229.99" width="7.10" height="36.81" fill="#008000" stroke="#111" stroke-width="1.0"/>
<line x1="427.15" y1="229.99" x2="427.15" y2="228.71" stroke="#111" stroke-width="0.7"/>
<line x1="425.35" y1="228.71" x2="428.95" y2="228.71" stroke="#111" stroke-width="0.7"/>
<circle cx="425.15" cy="228.28" r="1.2" fill="#000"/>
<circle cx="429.15" cy="229.56" r="1.2" fill="#000"/>
<circle cx="427.15" cy="230.42" r="1.2" fill="#000"/>
<rect x="443.30" y="244.54" width="7.10" height="22.26" fill="#646464" stroke="#111" stroke-width="1.0"/>
<line x1="446.85" y1="244.54" x2="446.85" y2="243.69" stroke="#111" stroke-width="0.7"/>
<line x1="445.05" y1="243.69" x2="448.65" y2="243.69" stroke="#111" stroke-width="0.7"/>
<circle cx="444.85" cy="243.69" r="1.2" fill="#000"/>
<circle cx="448.85" cy="244.12" r="1.2" fill="#000"/>
<circle cx="446.85" cy="244.97" r="1.2" fill="#000"/>
<rect x="455.20" y="241.12" width="7.20" height="25.68" fill="#008000" stroke="#111" stroke-width="1.0"/>
<line x1="458.80" y1="241.12" x2="458.80" y2="239.41" stroke="#111" stroke-width="0.7"/>
<line x1="457.00" y1="239.41" x2="460.60" y2="239.41" stroke="#111" stroke-width="0.7"/>
<circle cx="456.80" cy="239.84" r="1.2" fill="#000"/>
<circle cx="460.80" cy="239.84" r="1.2" fill="#000"/>
<circle cx="458.80" cy="244.54" r="1.2" fill="#000"/>
<rect x="475.20" y="255.46" width="7.30" height="11.34" fill="#646464" stroke="#111" stroke-width="1.0"/>
<line x1="478.85" y1="255.46" x2="478.85" y2="254.17" stroke="#111" stroke-width="0.7"/>
<line x1="477.05" y1="254.17" x2="480.65" y2="254.17" stroke="#111" stroke-width="0.7"/>
<circle cx="476.85" cy="254.17" r="1.2" fill="#000"/>
<circle cx="480.85" cy="254.60" r="1.2" fill="#000"/>
<circle cx="478.85" cy="256.31" r="1.2" fill="#000"/>
<rect x="486.90" y="256.53" width="7.50" height="10.27" fill="#008000" stroke="#111" stroke-width="1.0"/>
<line x1="490.65" y1="256.53" x2="490.65" y2="255.67" stroke="#111" stroke-width="0.7"/>
<line x1="488.85" y1="255.67" x2="492.45" y2="255.67" stroke="#111" stroke-width="0.7"/>
<circle cx="488.65" cy="255.67" r="1.2" fill="#000"/>
<circle cx="492.65" cy="256.10" r="1.2" fill="#000"/>
<circle cx="490.65" cy="256.96" r="1.2" fill="#000"/>
<line x1="405.55" y1="266.80" x2="498.00" y2="266.80" stroke="#8c8c8c" stroke-width="1.2"/>
<line x1="420.30" y1="266.80" x2="420.30" y2="269.00" stroke="#444" stroke-width="0.8"/>
<line x1="452.40" y1="266.80" x2="452.40" y2="269.00" stroke="#444" stroke-width="0.8"/>
<line x1="484.60" y1="266.80" x2="484.60" y2="269.00" stroke="#444" stroke-width="0.8"/>
<text x="415.00" y="279.20" font-size="7.9" text-anchor="middle" textLength="13.10" lengthAdjust="spacingAndGlyphs" fill="#000">Ctrl</text>
<text x="450.60" y="279.20" font-size="7.9" text-anchor="middle" textLength="36.10" lengthAdjust="spacingAndGlyphs" fill="#000">ATRX_KO</text>
<text x="492.20" y="279.20" font-size="7.9" text-anchor="middle" textLength="37.20" lengthAdjust="spacingAndGlyphs" fill="#000">DAXX_KO</text>
<text x="454.10" y="162.20" font-size="7.5" text-anchor="middle" font-weight="bold" textLength="56.00" lengthAdjust="spacingAndGlyphs" fill="#000">13q subtelomere</text>
<text x="394.50" y="234.00" font-size="6.5" text-anchor="middle" transform="rotate(-90 394.50 234.00)" textLength="21.00" lengthAdjust="spacingAndGlyphs" fill="#000">% input</text>
<path d="M414.90,219.20 L414.90,215.40 L446.80,215.40 L446.80,242.50" fill="none" stroke="#3a3a3a" stroke-width="0.75"/>
<text x="431.00" y="213.40" font-size="7.9" text-anchor="middle" textLength="26.20" lengthAdjust="spacingAndGlyphs" class="pv" fill="#000">p&lt;.0001</text>
<path d="M427.10,206.30 L427.10,202.50 L458.80,202.50 L458.80,238.50" fill="none" stroke="#3a3a3a" stroke-width="0.75"/>
<text x="443.00" y="200.50" font-size="7.9" text-anchor="middle" textLength="25.90" lengthAdjust="spacingAndGlyphs" class="pv" fill="#000">p=.0011</text>
<path d="M414.90,211.60 L414.90,189.70 L478.80,189.70 L478.80,252.00" fill="none" stroke="#3a3a3a" stroke-width="0.75"/>
<text x="452.10" y="187.10" font-size="7.9" text-anchor="middle" textLength="26.50" lengthAdjust="spacingAndGlyphs" class="pv" fill="#000">p&lt;.0001</text>
<path d="M427.10,186.20 L427.10,176.60 L490.70,176.60 L490.70,253.50" fill="none" stroke="#3a3a3a" stroke-width="0.75"/>
<text x="460.00" y="174.00" font-size="7.9" text-anchor="middle" textLength="26.70" lengthAdjust="spacingAndGlyphs" class="pv" fill="#000">p&lt;.0001</text>
<line x1="529.40" y1="207.30" x2="529.40" y2="268.50" stroke="#8c8c8c" stroke-width="1.2"/>
<line x1="527.80" y1="268.10" x2="529.40" y2="268.10" stroke="#444" stroke-width="0.8"/>
<text x="527.00" y="270.04" font-size="5.4" text-anchor="end" class="tk" fill="#000">0</text>
<line x1="527.80" y1="252.90" x2="529.40" y2="252.90" stroke="#444" stroke-width="0.8"/>
<text x="527.00" y="254.84" font-size="5.4" text-anchor="end" class="tk" fill="#000">5</text>
<line x1="527.80" y1="237.70" x2="529.40" y2="237.70" stroke="#444" stroke-width="0.8"/>
<text x="527.00" y="239.64" font-size="5.4" text-anchor="end" class="tk" fill="#000">10</text>
<line x1="527.80" y1="222.50" x2="529.40" y2="222.50" stroke="#444" stroke-width="0.8"/>
<text x="527.00" y="224.44" font-size="5.4" text-anchor="end" class="tk" fill="#000">15</text>
<line x1="527.80" y1="207.30" x2="529.40" y2="207.30" stroke="#444" stroke-width="0.8"/>
<text x="527.00" y="209.24" font-size="5.4" text-anchor="end" class="tk" fill="#000">20</text>
<rect x="534.60" y="231.01" width="7.00" height="37.09" fill="#646464" stroke="#111" stroke-width="1.0"/>
<line x1="538.10" y1="231.01" x2="538.10" y2="230.40" stroke="#111" stroke-width="0.7"/>
<line x1="536.30" y1="230.40" x2="539.90" y2="230.40" stroke="#111" stroke-width="0.7"/>
<circle cx="536.10" cy="230.40" r="1.2" fill="#000"/>
<circle cx="540.10" cy="230.71" r="1.2" fill="#000"/>
<circle cx="538.10" cy="231.32" r="1.2" fill="#000"/>
<rect x="546.50" y="220.98" width="7.30" height="47.12" fill="#008000" stroke="#111" stroke-width="1.0"/>
<line x1="550.15" y1="220.98" x2="550.15" y2="217.03" stroke="#111" stroke-width="0.7"/>
<line x1="548.35" y1="217.03" x2="551.95" y2="217.03" stroke="#111" stroke-width="0.7"/>
<circle cx="550.15" cy="217.03" r="1.2" fill="#000"/>
<circle cx="550.15" cy="220.68" r="1.2" fill="#000"/>
<circle cx="550.15" cy="223.11" r="1.2" fill="#000"/>
<rect x="567.40" y="249.56" width="7.30" height="18.54" fill="#646464" stroke="#111" stroke-width="1.0"/>
<line x1="571.05" y1="249.56" x2="571.05" y2="248.95" stroke="#111" stroke-width="0.7"/>
<line x1="569.25" y1="248.95" x2="572.85" y2="248.95" stroke="#111" stroke-width="0.7"/>
<circle cx="569.05" cy="248.95" r="1.2" fill="#000"/>
<circle cx="573.05" cy="249.25" r="1.2" fill="#000"/>
<circle cx="571.05" cy="249.86" r="1.2" fill="#000"/>
<rect x="579.70" y="251.99" width="7.20" height="16.11" fill="#008000" stroke="#111" stroke-width="1.0"/>
<line x1="583.30" y1="251.99" x2="583.30" y2="251.08" stroke="#111" stroke-width="0.7"/>
<line x1="581.50" y1="251.08" x2="585.10" y2="251.08" stroke="#111" stroke-width="0.7"/>
<circle cx="581.30" cy="251.08" r="1.2" fill="#000"/>
<circle cx="585.30" cy="251.68" r="1.2" fill="#000"/>
<circle cx="583.30" cy="252.60" r="1.2" fill="#000"/>
<rect x="600.60" y="255.03" width="6.90" height="13.07" fill="#646464" stroke="#111" stroke-width="1.0"/>
<line x1="604.05" y1="255.03" x2="604.05" y2="253.81" stroke="#111" stroke-width="0.7"/>
<line x1="602.25" y1="253.81" x2="605.85" y2="253.81" stroke="#111" stroke-width="0.7"/>
<circle cx="602.05" cy="253.20" r="1.2" fill="#000"/>
<circle cx="606.05" cy="255.03" r="1.2" fill="#000"/>
<circle cx="604.05" cy="255.64" r="1.2" fill="#000"/>
<rect x="612.60" y="257.76" width="7.50" height="10.34" fill="#008000" stroke="#111" stroke-width="1.0"/>
<line x1="616.35" y1="257.76" x2="616.35" y2="257.16" stroke="#111" stroke-width="0.7"/>
<line x1="614.55" y1="257.16" x2="618.15" y2="257.16" stroke="#111" stroke-width="0.7"/>
<circle cx="614.35" cy="257.16" r="1.2" fill="#000"/>
<circle cx="618.35" cy="257.46" r="1.2" fill="#000"/>
<circle cx="616.35" cy="258.07" r="1.2" fill="#000"/>
<line x1="528.95" y1="268.10" x2="624.30" y2="268.10" stroke="#8c8c8c" stroke-width="1.2"/>
<line x1="544.00" y1="268.10" x2="544.00" y2="270.30" stroke="#444" stroke-width="0.8"/>
<line x1="577.20" y1="268.10" x2="577.20" y2="270.30" stroke="#444" stroke-width="0.8"/>
<line x1="610.30" y1="268.10" x2="610.30" y2="270.30" stroke="#444" stroke-width="0.8"/>
<text x="535.50" y="279.20" font-size="7.9" text-anchor="middle" textLength="13.50" lengthAdjust="spacingAndGlyphs" fill="#000">Ctrl</text>
<text x="570.90" y="279.20" font-size="7.9" text-anchor="middle" textLength="36.10" lengthAdjust="spacingAndGlyphs" fill="#000">ATRX_KO</text>
<text x="612.50" y="279.20" font-size="7.9" text-anchor="middle" textLength="37.40" lengthAdjust="spacingAndGlyphs" fill="#000">DAXX_KO</text>
<text x="579.50" y="161.80" font-size="7.5" text-anchor="middle" font-weight="bold" textLength="23.70" lengthAdjust="spacingAndGlyphs" fill="#000">TMCC1</text>
<text x="517.30" y="236.60" font-size="6.5" text-anchor="middle" transform="rotate(-90 517.30 236.60)" textLength="21.00" lengthAdjust="spacingAndGlyphs" fill="#000">% input</text>
<path d="M538.10,228.00 L538.10,210.20 L571.00,210.20 L571.00,247.50" fill="none" stroke="#3a3a3a" stroke-width="0.75"/>
<text x="556.00" y="208.20" font-size="7.9" text-anchor="middle" textLength="26.80" lengthAdjust="spacingAndGlyphs" class="pv" fill="#000">p&lt;.0001</text>
<path d="M550.10,202.00 L550.10,197.80 L583.30,197.80 L583.30,250.00" fill="none" stroke="#3a3a3a" stroke-width="0.75"/>
<text x="567.60" y="195.80" font-size="7.9" text-anchor="middle" textLength="25.80" lengthAdjust="spacingAndGlyphs" class="pv" fill="#000">p&lt;.0001</text>
<path d="M538.10,207.40 L538.10,185.70 L604.00,185.70 L604.00,253.00" fill="none" stroke="#3a3a3a" stroke-width="0.75"/>
<text x="574.00" y="183.10" font-size="7.9" text-anchor="middle" textLength="26.10" lengthAdjust="spacingAndGlyphs" class="pv" fill="#000">p&lt;.0001</text>
<path d="M550.10,182.60 L550.10,173.30 L616.40,173.30 L616.40,255.00" fill="none" stroke="#3a3a3a" stroke-width="0.75"/>
<text x="584.60" y="170.70" font-size="7.9" text-anchor="middle" textLength="26.00" lengthAdjust="spacingAndGlyphs" class="pv" fill="#000">p&lt;.0001</text>
<text x="13.00" y="381.50" font-size="8.4" text-anchor="middle" font-weight="bold" transform="rotate(-90 13.00 381.50)" textLength="27.00" lengthAdjust="spacingAndGlyphs" fill="#000">γH2AX</text>
<rect x="627.80" y="313.10" width="9.80" height="4.90" fill="#646464" stroke="#111" stroke-width="1.0"/>
<text x="643.40" y="317.90" font-size="8.0" textLength="21.50" lengthAdjust="spacingAndGlyphs" fill="#000">DMSO</text>
<rect x="627.80" y="325.90" width="9.80" height="4.60" fill="#008000" stroke="#111" stroke-width="1.0"/>
<text x="643.40" y="330.40" font-size="8.0" textLength="31.90" lengthAdjust="spacingAndGlyphs" fill="#000">Etoposide</text>
<line x1="38.20" y1="350.45" x2="38.20" y2="413.70" stroke="#333" stroke-width="0.9"/>
<line x1="35.60" y1="413.30" x2="38.20" y2="413.30" stroke="#000" stroke-width="0.8"/>
<text x="35.20" y="415.10" font-size="5.0" text-anchor="end" font-weight="bold" class="tk" fill="#000">0.00</text>
<line x1="35.60" y1="392.35" x2="38.20" y2="392.35" stroke="#000" stroke-width="0.8"/>
<text x="35.20" y="394.15" font-size="5.0" text-anchor="end" font-weight="bold" class="tk" fill="#000">0.01</text>
<line x1="35.60" y1="371.40" x2="38.20" y2="371.40" stroke="#000" stroke-width="0.8"/>
<text x="35.20" y="373.20" font-size="5.0" text-anchor="end" font-weight="bold" class="tk" fill="#000">0.02</text>
<line x1="35.60" y1="350.45" x2="38.20" y2="350.45" stroke="#000" stroke-width="0.8"/>
<text x="35.20" y="352.25" font-size="5.0" text-anchor="end" font-weight="bold" class="tk" fill="#000">0.03</text>
<rect x="42.60" y="408.06" width="7.80" height="5.24" fill="#646464" stroke="#111" stroke-width="1.0"/>
<line x1="46.50" y1="408.06" x2="46.50" y2="401.78" stroke="#111" stroke-width="0.7"/>
<line x1="44.70" y1="401.78" x2="48.30" y2="401.78" stroke="#111" stroke-width="0.7"/>
<circle cx="46.50" cy="403.24" r="1.3" fill="#000"/>
<circle cx="46.50" cy="412.67" r="1.3" fill="#000"/>
<rect x="55.20" y="374.33" width="7.40" height="38.97" fill="#008000" stroke="#111" stroke-width="1.0"/>
<line x1="58.90" y1="374.33" x2="58.90" y2="361.76" stroke="#111" stroke-width="0.7"/>
<line x1="57.10" y1="361.76" x2="60.70" y2="361.76" stroke="#111" stroke-width="0.7"/>
<circle cx="58.90" cy="361.76" r="1.3" fill="#000"/>
<circle cx="56.60" cy="381.04" r="1.3" fill="#000"/>
<circle cx="61.20" cy="378.73" r="1.3" fill="#000"/>
<rect x="75.60" y="388.16" width="7.60" height="25.14" fill="#646464" stroke="#111" stroke-width="1.0"/>
<line x1="79.40" y1="388.16" x2="79.40" y2="370.98" stroke="#111" stroke-width="0.7"/>
<line x1="77.60" y1="370.98" x2="81.20" y2="370.98" stroke="#111" stroke-width="0.7"/>
<circle cx="79.40" cy="370.98" r="1.3" fill="#000"/>
<circle cx="79.40" cy="391.93" r="1.3" fill="#000"/>
<circle cx="79.40" cy="401.99" r="1.3" fill="#000"/>
<rect x="88.30" y="368.05" width="7.50" height="45.25" fill="#008000" stroke="#111" stroke-width="1.0"/>
<line x1="92.05" y1="368.05" x2="92.05" y2="360.93" stroke="#111" stroke-width="0.7"/>
<line x1="90.25" y1="360.93" x2="93.85" y2="360.93" stroke="#111" stroke-width="0.7"/>
<circle cx="92.05" cy="360.93" r="1.3" fill="#000"/>
<circle cx="89.95" cy="369.72" r="1.3" fill="#000"/>
<circle cx="94.65" cy="369.72" r="1.3" fill="#000"/>
<rect x="108.40" y="371.40" width="8.00" height="41.90" fill="#646464" stroke="#111" stroke-width="1.0"/>
<line x1="112.40" y1="371.40" x2="112.40" y2="360.30" stroke="#111" stroke-width="0.7"/>
<line x1="110.60" y1="360.30" x2="114.20" y2="360.30" stroke="#111" stroke-width="0.7"/>
<circle cx="109.60" cy="364.28" r="1.3" fill="#000"/>
<circle cx="115.50" cy="364.70" r="1.3" fill="#000"/>
<circle cx="112.40" cy="382.50" r="1.3" fill="#000"/>
<rect x="121.20" y="379.78" width="7.30" height="33.52" fill="#008000" stroke="#111" stroke-width="1.0"/>
<line x1="124.85" y1="379.78" x2="124.85" y2="363.65" stroke="#111" stroke-width="0.7"/>
<line x1="123.05" y1="363.65" x2="126.65" y2="363.65" stroke="#111" stroke-width="0.7"/>
<circle cx="124.85" cy="363.65" r="1.3" fill="#000"/>
<circle cx="124.85" cy="378.10" r="1.3" fill="#000"/>
<circle cx="124.85" cy="396.12" r="1.3" fill="#000"/>
<line x1="37.75" y1="413.30" x2="132.70" y2="413.30" stroke="#333" stroke-width="0.9"/>
<line x1="52.60" y1="413.30" x2="52.60" y2="415.90" stroke="#000" stroke-width="0.8"/>
<line x1="85.70" y1="413.30" x2="85.70" y2="415.90" stroke="#000" stroke-width="0.8"/>
<line x1="118.50" y1="413.30" x2="118.50" y2="415.90" stroke="#000" stroke-width="0.8"/>
<text x="48.70" y="425.00" font-size="8.1" text-anchor="middle" textLength="13.60" lengthAdjust="spacingAndGlyphs" fill="#000">Ctrl</text>
<text x="84.00" y="425.00" font-size="8.1" text-anchor="middle" textLength="36.10" lengthAdjust="spacingAndGlyphs" fill="#000">ATRX_KO</text>
<text x="125.00" y="425.00" font-size="8.1" text-anchor="middle" textLength="37.00" lengthAdjust="spacingAndGlyphs" fill="#000">DAXX_KO</text>
<text x="85.00" y="298.30" font-size="7.2" text-anchor="middle" font-weight="bold" textLength="45.40" lengthAdjust="spacingAndGlyphs" fill="#000">p21 promoter</text>
<text x="22.20" y="381.50" font-size="6.5" text-anchor="middle" transform="rotate(-90 22.20 381.50)" textLength="21.80" lengthAdjust="spacingAndGlyphs" fill="#000">% input</text>
<path d="M46.50,397.70 L46.50,352.40 L79.40,352.40 L79.40,369.70" fill="none" stroke="#222" stroke-width="0.75"/>
<text x="62.60" y="351.30" font-size="7.3" text-anchor="middle" textLength="27.40" lengthAdjust="spacingAndGlyphs" class="pv" fill="#000">p=.2065</text>
<path d="M58.90,342.80 L58.90,339.30 L92.00,339.30 L92.00,359.40" fill="none" stroke="#222" stroke-width="0.75"/>
<text x="76.20" y="336.30" font-size="7.3" text-anchor="middle" textLength="27.90" lengthAdjust="spacingAndGlyphs" class="pv" fill="#000">p=.4139</text>
<path d="M46.50,349.80 L46.50,325.40 L112.40,325.40 L112.40,356.80" fill="none" stroke="#222" stroke-width="0.75"/>
<text x="84.60" y="322.40" font-size="7.3" text-anchor="middle" textLength="27.90" lengthAdjust="spacingAndGlyphs" class="pv" fill="#000">p=.0230</text>
<path d="M58.90,321.40 L58.90,312.30 L124.90,312.30 L124.90,362.90" fill="none" stroke="#222" stroke-width="0.75"/>
<text x="96.80" y="309.30" font-size="7.3" text-anchor="middle" textLength="27.30" lengthAdjust="spacingAndGlyphs" class="pv" fill="#000">p=.6600</text>
<line x1="160.60" y1="350.50" x2="160.60" y2="413.70" stroke="#333" stroke-width="0.9"/>
<line x1="158.00" y1="413.30" x2="160.60" y2="413.30" stroke="#000" stroke-width="0.8"/>
<text x="157.60" y="415.10" font-size="5.0" text-anchor="end" font-weight="bold" class="tk" fill="#000">0.00</text>
<line x1="158.00" y1="397.60" x2="160.60" y2="397.60" stroke="#000" stroke-width="0.8"/>
<text x="157.60" y="399.40" font-size="5.0" text-anchor="end" font-weight="bold" class="tk" fill="#000">0.01</text>
<line x1="158.00" y1="381.90" x2="160.60" y2="381.90" stroke="#000" stroke-width="0.8"/>
<text x="157.60" y="383.70" font-size="5.0" text-anchor="end" font-weight="bold" class="tk" fill="#000">0.02</text>
<line x1="158.00" y1="366.20" x2="160.60" y2="366.20" stroke="#000" stroke-width="0.8"/>
<text x="157.60" y="368.00" font-size="5.0" text-anchor="end" font-weight="bold" class="tk" fill="#000">0.03</text>
<line x1="158.00" y1="350.50" x2="160.60" y2="350.50" stroke="#000" stroke-width="0.8"/>
<text x="157.60" y="352.30" font-size="5.0" text-anchor="end" font-weight="bold" class="tk" fill="#000">0.04</text>
<rect x="165.20" y="413.14" width="7.40" height="0.16" fill="#646464" stroke="#111" stroke-width="1.0"/>
<circle cx="166.60" cy="413.30" r="1.3" fill="#000"/>
<circle cx="168.90" cy="413.30" r="1.3" fill="#000"/>
<circle cx="171.20" cy="413.30" r="1.3" fill="#000"/>
<rect x="177.20" y="408.12" width="7.40" height="5.18" fill="#008000" stroke="#111" stroke-width="1.0"/>
<line x1="180.90" y1="408.12" x2="180.90" y2="402.31" stroke="#111" stroke-width="0.7"/>
<line x1="179.10" y1="402.31" x2="182.70" y2="402.31" stroke="#111" stroke-width="0.7"/>
<circle cx="180.90" cy="402.31" r="1.3" fill="#000"/>
<circle cx="178.60" cy="410.47" r="1.3" fill="#000"/>
<circle cx="183.20" cy="411.26" r="1.3" fill="#000"/>
<rect x="197.40" y="400.58" width="8.10" height="12.72" fill="#646464" stroke="#111" stroke-width="1.0"/>
<line x1="201.45" y1="400.58" x2="201.45" y2="394.62" stroke="#111" stroke-width="0.7"/>
<line x1="199.65" y1="394.62" x2="203.25" y2="394.62" stroke="#111" stroke-width="0.7"/>
<circle cx="198.45" cy="397.13" r="1.3" fill="#000"/>
<circle cx="204.45" cy="397.44" r="1.3" fill="#000"/>
<circle cx="201.45" cy="406.71" r="1.3" fill="#000"/>
<rect x="210.10" y="379.55" width="7.40" height="33.75" fill="#008000" stroke="#111" stroke-width="1.0"/>
<line x1="213.80" y1="379.55" x2="213.80" y2="362.43" stroke="#111" stroke-width="0.7"/>
<line x1="212.00" y1="362.43" x2="215.60" y2="362.43" stroke="#111" stroke-width="0.7"/>
<circle cx="213.80" cy="359.76" r="1.3" fill="#000"/>
<circle cx="211.60" cy="388.18" r="1.3" fill="#000"/>
<circle cx="216.00" cy="388.18" r="1.3" fill="#000"/>
<rect x="230.40" y="400.58" width="7.70" height="12.72" fill="#646464" stroke="#111" stroke-width="1.0"/>
<line x1="234.25" y1="400.58" x2="234.25" y2="393.52" stroke="#111" stroke-width="0.7"/>
<line x1="232.45" y1="393.52" x2="236.05" y2="393.52" stroke="#111" stroke-width="0.7"/>
<circle cx="234.25" cy="393.52" r="1.3" fill="#000"/>
<circle cx="234.25" cy="399.64" r="1.3" fill="#000"/>
<circle cx="234.25" cy="406.71" r="1.3" fill="#000"/>
<rect x="243.10" y="400.58" width="7.40" height="12.72" fill="#008000" stroke="#111" stroke-width="1.0"/>
<line x1="246.80" y1="400.58" x2="246.80" y2="391.16" stroke="#111" stroke-width="0.7"/>
<line x1="245.00" y1="391.16" x2="248.60" y2="391.16" stroke="#111" stroke-width="0.7"/>
<circle cx="246.80" cy="391.16" r="1.3" fill="#000"/>
<circle cx="246.80" cy="402.00" r="1.3" fill="#000"/>
<circle cx="246.80" cy="407.02" r="1.3" fill="#000"/>
<line x1="160.15" y1="413.30" x2="255.00" y2="413.30" stroke="#333" stroke-width="0.9"/>
<line x1="174.60" y1="413.30" x2="174.60" y2="415.90" stroke="#000" stroke-width="0.8"/>
<line x1="207.70" y1="413.30" x2="207.70" y2="415.90" stroke="#000" stroke-width="0.8"/>
<line x1="240.60" y1="413.30" x2="240.60" y2="415.90" stroke="#000" stroke-width="0.8"/>
<text x="166.50" y="425.00" font-size="8.1" text-anchor="middle" textLength="13.50" lengthAdjust="spacingAndGlyphs" fill="#000">Ctrl</text>
<text x="202.30" y="425.00" font-size="8.1" text-anchor="middle" textLength="36.10" lengthAdjust="spacingAndGlyphs" fill="#000">ATRX_KO</text>
<text x="243.50" y="425.00" font-size="8.1" text-anchor="middle" textLength="37.00" lengthAdjust="spacingAndGlyphs" fill="#000">DAXX_KO</text>
<text x="205.00" y="297.10" font-size="7.2" text-anchor="middle" font-weight="bold" textLength="34.00" lengthAdjust="spacingAndGlyphs" fill="#000">GADD45A</text>
<text x="143.60" y="381.50" font-size="6.5" text-anchor="middle" transform="rotate(-90 143.60 381.50)" textLength="21.80" lengthAdjust="spacingAndGlyphs" fill="#000">% input</text>
<path d="M168.90,411.00 L168.90,355.00 L201.40,355.00 L201.40,393.50" fill="none" stroke="#222" stroke-width="0.75"/>
<text x="186.50" y="352.60" font-size="7.3" text-anchor="middle" textLength="27.40" lengthAdjust="spacingAndGlyphs" class="pv" fill="#000">p=.0156</text>
<path d="M180.70,344.60 L180.70,341.40 L213.90,341.40 L213.90,359.40" fill="none" stroke="#222" stroke-width="0.75"/>
<text x="198.20" y="338.40" font-size="7.3" text-anchor="middle" textLength="27.40" lengthAdjust="spacingAndGlyphs" class="pv" fill="#000">p=.0470</text>
<path d="M168.90,351.60 L168.90,328.30 L234.20,328.30 L234.20,388.00" fill="none" stroke="#222" stroke-width="0.75"/>
<text x="209.60" y="325.30" font-size="7.3" text-anchor="middle" textLength="27.60" lengthAdjust="spacingAndGlyphs" class="pv" fill="#000">p=.0264</text>
<path d="M180.70,324.50 L180.70,314.90 L246.90,314.90 L246.90,384.00" fill="none" stroke="#222" stroke-width="0.75"/>
<text x="215.50" y="311.90" font-size="7.3" text-anchor="middle" textLength="27.10" lengthAdjust="spacingAndGlyphs" class="pv" fill="#000">p=.2175</text>
<line x1="281.50" y1="348.50" x2="281.50" y2="413.70" stroke="#333" stroke-width="0.9"/>
<line x1="278.90" y1="413.30" x2="281.50" y2="413.30" stroke="#000" stroke-width="0.8"/>
<text x="278.50" y="415.10" font-size="5.0" text-anchor="end" font-weight="bold" class="tk" fill="#000">0.00</text>
<line x1="278.90" y1="391.70" x2="281.50" y2="391.70" stroke="#000" stroke-width="0.8"/>
<text x="278.50" y="393.50" font-size="5.0" text-anchor="end" font-weight="bold" class="tk" fill="#000">0.02</text>
<line x1="278.90" y1="370.10" x2="281.50" y2="370.10" stroke="#000" stroke-width="0.8"/>
<text x="278.50" y="371.90" font-size="5.0" text-anchor="end" font-weight="bold" class="tk" fill="#000">0.04</text>
<line x1="278.90" y1="348.50" x2="281.50" y2="348.50" stroke="#000" stroke-width="0.8"/>
<text x="278.50" y="350.30" font-size="5.0" text-anchor="end" font-weight="bold" class="tk" fill="#000">0.06</text>
<rect x="286.60" y="413.08" width="7.70" height="0.22" fill="#646464" stroke="#111" stroke-width="1.0"/>
<circle cx="288.15" cy="413.30" r="1.3" fill="#000"/>
<circle cx="290.45" cy="413.30" r="1.3" fill="#000"/>
<circle cx="292.75" cy="413.30" r="1.3" fill="#000"/>
<rect x="299.40" y="399.37" width="7.40" height="13.93" fill="#008000" stroke="#111" stroke-width="1.0"/>
<line x1="303.10" y1="399.37" x2="303.10" y2="398.72" stroke="#111" stroke-width="0.7"/>
<line x1="301.30" y1="398.72" x2="304.90" y2="398.72" stroke="#111" stroke-width="0.7"/>
<circle cx="301.10" cy="399.04" r="1.3" fill="#000"/>
<circle cx="305.10" cy="398.83" r="1.3" fill="#000"/>
<circle cx="303.10" cy="399.48" r="1.3" fill="#000"/>
<rect x="320.30" y="392.46" width="7.50" height="20.84" fill="#646464" stroke="#111" stroke-width="1.0"/>
<line x1="324.05" y1="392.46" x2="324.05" y2="391.16" stroke="#111" stroke-width="0.7"/>
<line x1="322.25" y1="391.16" x2="325.85" y2="391.16" stroke="#111" stroke-width="0.7"/>
<circle cx="321.75" cy="392.02" r="1.3" fill="#000"/>
<circle cx="326.35" cy="391.48" r="1.3" fill="#000"/>
<circle cx="324.05" cy="392.78" r="1.3" fill="#000"/>
<rect x="332.50" y="371.18" width="7.50" height="42.12" fill="#008000" stroke="#111" stroke-width="1.0"/>
<line x1="336.25" y1="371.18" x2="336.25" y2="361.68" stroke="#111" stroke-width="0.7"/>
<line x1="334.45" y1="361.68" x2="338.05" y2="361.68" stroke="#111" stroke-width="0.7"/>
<circle cx="336.25" cy="361.68" r="1.3" fill="#000"/>
<circle cx="336.25" cy="370.10" r="1.3" fill="#000"/>
<circle cx="336.25" cy="381.98" r="1.3" fill="#000"/>
<rect x="353.00" y="397.42" width="7.80" height="15.88" fill="#646464" stroke="#111" stroke-width="1.0"/>
<line x1="356.90" y1="397.42" x2="356.90" y2="396.88" stroke="#111" stroke-width="0.7"/>
<line x1="355.10" y1="396.88" x2="358.70" y2="396.88" stroke="#111" stroke-width="0.7"/>
<circle cx="354.60" cy="397.42" r="1.3" fill="#000"/>
<circle cx="359.20" cy="397.42" r="1.3" fill="#000"/>
<circle cx="356.90" cy="399.69" r="1.3" fill="#000"/>
<rect x="365.20" y="381.76" width="7.50" height="31.54" fill="#008000" stroke="#111" stroke-width="1.0"/>
<line x1="368.95" y1="381.76" x2="368.95" y2="376.36" stroke="#111" stroke-width="0.7"/>
<line x1="367.15" y1="376.36" x2="370.75" y2="376.36" stroke="#111" stroke-width="0.7"/>
<circle cx="368.95" cy="376.36" r="1.3" fill="#000"/>
<circle cx="368.95" cy="380.36" r="1.3" fill="#000"/>
<circle cx="368.95" cy="388.14" r="1.3" fill="#000"/>
<line x1="281.05" y1="413.30" x2="377.20" y2="413.30" stroke="#333" stroke-width="0.9"/>
<line x1="296.80" y1="413.30" x2="296.80" y2="415.90" stroke="#000" stroke-width="0.8"/>
<line x1="330.20" y1="413.30" x2="330.20" y2="415.90" stroke="#000" stroke-width="0.8"/>
<line x1="363.00" y1="413.30" x2="363.00" y2="415.90" stroke="#000" stroke-width="0.8"/>
<text x="289.90" y="425.00" font-size="8.1" text-anchor="middle" textLength="13.50" lengthAdjust="spacingAndGlyphs" fill="#000">Ctrl</text>
<text x="325.40" y="425.00" font-size="8.1" text-anchor="middle" textLength="37.00" lengthAdjust="spacingAndGlyphs" fill="#000">ATRX_KO</text>
<text x="366.70" y="425.00" font-size="8.1" text-anchor="middle" textLength="37.50" lengthAdjust="spacingAndGlyphs" fill="#000">DAXX_KO</text>
<text x="330.70" y="300.60" font-size="7.2" text-anchor="middle" font-weight="bold" textLength="56.70" lengthAdjust="spacingAndGlyphs" fill="#000">18q subtelomere</text>
<text x="266.00" y="380.60" font-size="6.5" text-anchor="middle" transform="rotate(-90 266.00 380.60)" textLength="21.80" lengthAdjust="spacingAndGlyphs" fill="#000">% input</text>
<path d="M290.50,411.00 L290.50,353.80 L324.00,353.80 L324.00,388.50" fill="none" stroke="#222" stroke-width="0.75"/>
<text x="307.10" y="351.60" font-size="7.3" text-anchor="middle" textLength="27.00" lengthAdjust="spacingAndGlyphs" class="pv" fill="#000">p&lt;.0001</text>
<path d="M303.10,344.90 L303.10,340.60 L336.20,340.60 L336.20,358.50" fill="none" stroke="#222" stroke-width="0.75"/>
<text x="319.90" y="337.60" font-size="7.3" text-anchor="middle" textLength="27.10" lengthAdjust="spacingAndGlyphs" class="pv" fill="#000">p=.0088</text>
<path d="M290.50,350.50 L290.50,327.50 L356.90,327.50 L356.90,393.00" fill="none" stroke="#222" stroke-width="0.75"/>
<text x="328.30" y="324.50" font-size="7.3" text-anchor="middle" textLength="26.60" lengthAdjust="spacingAndGlyphs" class="pv" fill="#000">p=.0001</text>
<path d="M303.10,323.60 L303.10,314.90 L368.90,314.90 L368.90,373.00" fill="none" stroke="#222" stroke-width="0.75"/>
<text x="339.00" y="311.90" font-size="7.3" text-anchor="middle" textLength="27.00" lengthAdjust="spacingAndGlyphs" class="pv" fill="#000">p=.0066</text>
<line x1="404.30" y1="350.10" x2="404.30" y2="413.70" stroke="#333" stroke-width="0.9"/>
<line x1="401.70" y1="413.30" x2="404.30" y2="413.30" stroke="#000" stroke-width="0.8"/>
<text x="401.30" y="415.10" font-size="5.0" text-anchor="end" font-weight="bold" class="tk" fill="#000">0.00</text>
<line x1="401.70" y1="400.66" x2="404.30" y2="400.66" stroke="#000" stroke-width="0.8"/>
<text x="401.30" y="402.46" font-size="5.0" text-anchor="end" font-weight="bold" class="tk" fill="#000">0.01</text>
<line x1="401.70" y1="388.02" x2="404.30" y2="388.02" stroke="#000" stroke-width="0.8"/>
<text x="401.30" y="389.82" font-size="5.0" text-anchor="end" font-weight="bold" class="tk" fill="#000">0.02</text>
<line x1="401.70" y1="375.38" x2="404.30" y2="375.38" stroke="#000" stroke-width="0.8"/>
<text x="401.30" y="377.18" font-size="5.0" text-anchor="end" font-weight="bold" class="tk" fill="#000">0.03</text>
<line x1="401.70" y1="362.74" x2="404.30" y2="362.74" stroke="#000" stroke-width="0.8"/>
<text x="401.30" y="364.54" font-size="5.0" text-anchor="end" font-weight="bold" class="tk" fill="#000">0.04</text>
<line x1="401.70" y1="350.10" x2="404.30" y2="350.10" stroke="#000" stroke-width="0.8"/>
<text x="401.30" y="351.90" font-size="5.0" text-anchor="end" font-weight="bold" class="tk" fill="#000">0.05</text>
<rect x="408.90" y="413.11" width="7.40" height="0.19" fill="#646464" stroke="#111" stroke-width="1.0"/>
<circle cx="410.30" cy="413.30" r="1.3" fill="#000"/>
<circle cx="412.60" cy="413.30" r="1.3" fill="#000"/>
<circle cx="414.90" cy="413.30" r="1.3" fill="#000"/>
<rect x="421.20" y="396.62" width="7.40" height="16.68" fill="#008000" stroke="#111" stroke-width="1.0"/>
<line x1="424.90" y1="396.62" x2="424.90" y2="392.70" stroke="#111" stroke-width="0.7"/>
<line x1="423.10" y1="392.70" x2="426.70" y2="392.70" stroke="#111" stroke-width="0.7"/>
<circle cx="424.90" cy="392.70" r="1.3" fill="#000"/>
<circle cx="422.60" cy="398.13" r="1.3" fill="#000"/>
<circle cx="427.20" cy="398.13" r="1.3" fill="#000"/>
<rect x="441.40" y="383.85" width="8.10" height="29.45" fill="#646464" stroke="#111" stroke-width="1.0"/>
<line x1="445.45" y1="383.85" x2="445.45" y2="381.45" stroke="#111" stroke-width="0.7"/>
<line x1="443.65" y1="381.45" x2="447.25" y2="381.45" stroke="#111" stroke-width="0.7"/>
<circle cx="442.85" cy="381.95" r="1.3" fill="#000"/>
<circle cx="445.45" cy="386.50" r="1.3" fill="#000"/>
<circle cx="448.15" cy="383.34" r="1.3" fill="#000"/>
<rect x="454.10" y="363.75" width="7.40" height="49.55" fill="#008000" stroke="#111" stroke-width="1.0"/>
<line x1="457.80" y1="363.75" x2="457.80" y2="359.45" stroke="#111" stroke-width="0.7"/>
<line x1="456.00" y1="359.45" x2="459.60" y2="359.45" stroke="#111" stroke-width="0.7"/>
<circle cx="457.80" cy="359.45" r="1.3" fill="#000"/>
<circle cx="457.80" cy="367.92" r="1.3" fill="#000"/>
<rect x="474.70" y="394.59" width="7.70" height="18.71" fill="#646464" stroke="#111" stroke-width="1.0"/>
<line x1="478.55" y1="394.59" x2="478.55" y2="392.44" stroke="#111" stroke-width="0.7"/>
<line x1="476.75" y1="392.44" x2="480.35" y2="392.44" stroke="#111" stroke-width="0.7"/>
<circle cx="476.05" cy="392.95" r="1.3" fill="#000"/>
<circle cx="481.05" cy="393.46" r="1.3" fill="#000"/>
<circle cx="478.55" cy="397.75" r="1.3" fill="#000"/>
<rect x="487.50" y="373.36" width="7.00" height="39.94" fill="#008000" stroke="#111" stroke-width="1.0"/>
<line x1="491.00" y1="373.36" x2="491.00" y2="368.43" stroke="#111" stroke-width="0.7"/>
<line x1="489.20" y1="368.43" x2="492.80" y2="368.43" stroke="#111" stroke-width="0.7"/>
<circle cx="491.00" cy="368.68" r="1.3" fill="#000"/>
<circle cx="491.00" cy="377.15" r="1.3" fill="#000"/>
<line x1="403.85" y1="413.30" x2="499.00" y2="413.30" stroke="#333" stroke-width="0.9"/>
<line x1="418.40" y1="413.30" x2="418.40" y2="415.90" stroke="#000" stroke-width="0.8"/>
<line x1="451.50" y1="413.30" x2="451.50" y2="415.90" stroke="#000" stroke-width="0.8"/>
<line x1="484.20" y1="413.30" x2="484.20" y2="415.90" stroke="#000" stroke-width="0.8"/>
<text x="409.50" y="425.00" font-size="8.1" text-anchor="middle" textLength="13.10" lengthAdjust="spacingAndGlyphs" fill="#000">Ctrl</text>
<text x="444.80" y="425.00" font-size="8.1" text-anchor="middle" textLength="35.30" lengthAdjust="spacingAndGlyphs" fill="#000">ATRX_KO</text>
<text x="486.40" y="425.00" font-size="8.1" text-anchor="middle" textLength="37.50" lengthAdjust="spacingAndGlyphs" fill="#000">DAXX_KO</text>
<text x="452.00" y="299.20" font-size="7.2" text-anchor="middle" font-weight="bold" textLength="56.40" lengthAdjust="spacingAndGlyphs" fill="#000">13q subtelomere</text>
<text x="388.00" y="381.50" font-size="6.5" text-anchor="middle" transform="rotate(-90 388.00 381.50)" textLength="21.80" lengthAdjust="spacingAndGlyphs" fill="#000">% input</text>
<path d="M412.60,411.00 L412.60,351.20 L445.80,351.20 L445.80,379.00" fill="none" stroke="#222" stroke-width="0.75"/>
<text x="430.00" y="349.80" font-size="7.3" text-anchor="middle" textLength="26.50" lengthAdjust="spacingAndGlyphs" class="pv" fill="#000">p&lt;.0001</text>
<path d="M425.10,341.40 L425.10,338.50 L458.00,338.50 L458.00,356.80" fill="none" stroke="#222" stroke-width="0.75"/>
<text x="442.70" y="335.50" font-size="7.3" text-anchor="middle" textLength="27.40" lengthAdjust="spacingAndGlyphs" class="pv" fill="#000">p=.0005</text>
<path d="M412.60,347.70 L412.60,325.90 L478.50,325.90 L478.50,390.00" fill="none" stroke="#222" stroke-width="0.75"/>
<text x="448.30" y="322.90" font-size="7.3" text-anchor="middle" textLength="27.00" lengthAdjust="spacingAndGlyphs" class="pv" fill="#000">p=.0002</text>
<path d="M425.10,321.90 L425.10,313.20 L490.70,313.20 L490.70,366.00" fill="none" stroke="#222" stroke-width="0.75"/>
<text x="459.60" y="310.20" font-size="7.3" text-anchor="middle" textLength="27.20" lengthAdjust="spacingAndGlyphs" class="pv" fill="#000">p=.0023</text>
<line x1="526.40" y1="352.40" x2="526.40" y2="413.80" stroke="#333" stroke-width="0.9"/>
<line x1="523.80" y1="413.40" x2="526.40" y2="413.40" stroke="#000" stroke-width="0.8"/>
<text x="523.40" y="415.20" font-size="5.0" text-anchor="end" font-weight="bold" class="tk" fill="#000">0.00</text>
<line x1="523.80" y1="401.20" x2="526.40" y2="401.20" stroke="#000" stroke-width="0.8"/>
<text x="523.40" y="403.00" font-size="5.0" text-anchor="end" font-weight="bold" class="tk" fill="#000">0.01</text>
<line x1="523.80" y1="389.00" x2="526.40" y2="389.00" stroke="#000" stroke-width="0.8"/>
<text x="523.40" y="390.80" font-size="5.0" text-anchor="end" font-weight="bold" class="tk" fill="#000">0.02</text>
<line x1="523.80" y1="376.80" x2="526.40" y2="376.80" stroke="#000" stroke-width="0.8"/>
<text x="523.40" y="378.60" font-size="5.0" text-anchor="end" font-weight="bold" class="tk" fill="#000">0.03</text>
<line x1="523.80" y1="364.60" x2="526.40" y2="364.60" stroke="#000" stroke-width="0.8"/>
<text x="523.40" y="366.40" font-size="5.0" text-anchor="end" font-weight="bold" class="tk" fill="#000">0.04</text>
<line x1="523.80" y1="352.40" x2="526.40" y2="352.40" stroke="#000" stroke-width="0.8"/>
<text x="523.40" y="354.20" font-size="5.0" text-anchor="end" font-weight="bold" class="tk" fill="#000">0.05</text>
<rect x="530.60" y="413.16" width="7.80" height="0.24" fill="#646464" stroke="#111" stroke-width="1.0"/>
<circle cx="532.20" cy="413.40" r="1.3" fill="#000"/>
<circle cx="534.50" cy="412.79" r="1.3" fill="#000"/>
<circle cx="536.80" cy="413.40" r="1.3" fill="#000"/>
<rect x="543.30" y="397.42" width="7.30" height="15.98" fill="#008000" stroke="#111" stroke-width="1.0"/>
<line x1="546.95" y1="397.42" x2="546.95" y2="383.51" stroke="#111" stroke-width="0.7"/>
<line x1="545.15" y1="383.51" x2="548.75" y2="383.51" stroke="#111" stroke-width="0.7"/>
<circle cx="546.95" cy="384.12" r="1.3" fill="#000"/>
<circle cx="546.95" cy="394.00" r="1.3" fill="#000"/>
<circle cx="546.95" cy="412.18" r="1.3" fill="#000"/>
<rect x="563.40" y="398.88" width="8.10" height="14.52" fill="#646464" stroke="#111" stroke-width="1.0"/>
<line x1="567.45" y1="398.88" x2="567.45" y2="397.05" stroke="#111" stroke-width="0.7"/>
<line x1="565.65" y1="397.05" x2="569.25" y2="397.05" stroke="#111" stroke-width="0.7"/>
<circle cx="567.45" cy="397.05" r="1.3" fill="#000"/>
<circle cx="564.95" cy="398.88" r="1.3" fill="#000"/>
<circle cx="569.95" cy="398.88" r="1.3" fill="#000"/>
<rect x="576.10" y="369.11" width="7.40" height="44.29" fill="#008000" stroke="#111" stroke-width="1.0"/>
<line x1="579.80" y1="369.11" x2="579.80" y2="359.35" stroke="#111" stroke-width="0.7"/>
<line x1="578.00" y1="359.35" x2="581.60" y2="359.35" stroke="#111" stroke-width="0.7"/>
<circle cx="576.80" cy="363.38" r="1.3" fill="#000"/>
<circle cx="582.80" cy="363.38" r="1.3" fill="#000"/>
<circle cx="579.80" cy="379.48" r="1.3" fill="#000"/>
<rect x="596.70" y="402.05" width="7.70" height="11.35" fill="#646464" stroke="#111" stroke-width="1.0"/>
<line x1="600.55" y1="402.05" x2="600.55" y2="398.52" stroke="#111" stroke-width="0.7"/>
<line x1="598.75" y1="398.52" x2="602.35" y2="398.52" stroke="#111" stroke-width="0.7"/>
<circle cx="597.55" cy="399.25" r="1.3" fill="#000"/>
<circle cx="603.55" cy="399.74" r="1.3" fill="#000"/>
<circle cx="600.55" cy="406.69" r="1.3" fill="#000"/>
<rect x="609.50" y="381.07" width="7.00" height="32.33" fill="#008000" stroke="#111" stroke-width="1.0"/>
<line x1="613.00" y1="381.07" x2="613.00" y2="375.70" stroke="#111" stroke-width="0.7"/>
<line x1="611.20" y1="375.70" x2="614.80" y2="375.70" stroke="#111" stroke-width="0.7"/>
<circle cx="613.00" cy="375.70" r="1.3" fill="#000"/>
<circle cx="610.50" cy="383.75" r="1.3" fill="#000"/>
<circle cx="615.50" cy="383.75" r="1.3" fill="#000"/>
<line x1="525.95" y1="413.40" x2="620.60" y2="413.40" stroke="#333" stroke-width="0.9"/>
<line x1="540.60" y1="413.40" x2="540.60" y2="416.00" stroke="#000" stroke-width="0.8"/>
<line x1="573.80" y1="413.40" x2="573.80" y2="416.00" stroke="#000" stroke-width="0.8"/>
<line x1="606.40" y1="413.40" x2="606.40" y2="416.00" stroke="#000" stroke-width="0.8"/>
<text x="534.50" y="425.00" font-size="8.1" text-anchor="middle" textLength="13.50" lengthAdjust="spacingAndGlyphs" fill="#000">Ctrl</text>
<text x="570.00" y="425.00" font-size="8.1" text-anchor="middle" textLength="36.70" lengthAdjust="spacingAndGlyphs" fill="#000">ATRX_KO</text>
<text x="611.30" y="425.00" font-size="8.1" text-anchor="middle" textLength="37.50" lengthAdjust="spacingAndGlyphs" fill="#000">DAXX_KO</text>
<text x="573.50" y="300.10" font-size="7.2" text-anchor="middle" font-weight="bold" textLength="24.10" lengthAdjust="spacingAndGlyphs" fill="#000">TMCC1</text>
<text x="510.40" y="381.50" font-size="6.5" text-anchor="middle" transform="rotate(-90 510.40 381.50)" textLength="21.80" lengthAdjust="spacingAndGlyphs" fill="#000">% input</text>
<path d="M534.50,411.00 L534.50,352.40 L567.80,352.40 L567.80,392.00" fill="none" stroke="#222" stroke-width="0.75"/>
<text x="551.90" y="350.30" font-size="7.3" text-anchor="middle" textLength="27.80" lengthAdjust="spacingAndGlyphs" class="pv" fill="#000">p=.1700</text>
<path d="M547.00,342.00 L547.00,339.00 L579.90,339.00 L579.90,355.90" fill="none" stroke="#222" stroke-width="0.75"/>
<text x="563.30" y="336.00" font-size="7.3" text-anchor="middle" textLength="27.10" lengthAdjust="spacingAndGlyphs" class="pv" fill="#000">p=.0446</text>
<path d="M534.50,346.30 L534.50,326.60 L600.30,326.60 L600.30,395.00" fill="none" stroke="#222" stroke-width="0.75"/>
<text x="573.20" y="323.60" font-size="7.3" text-anchor="middle" textLength="27.00" lengthAdjust="spacingAndGlyphs" class="pv" fill="#000">p=.2800</text>
<path d="M547.00,322.80 L547.00,313.20 L612.90,313.20 L612.90,378.00" fill="none" stroke="#222" stroke-width="0.75"/>
<text x="580.20" y="310.20" font-size="7.3" text-anchor="middle" textLength="27.00" lengthAdjust="spacingAndGlyphs" class="pv" fill="#000">p=.1340</text>
<text x="14.60" y="466.50" font-size="8.0" text-anchor="middle" font-weight="bold" transform="rotate(-90 14.60 466.50)" textLength="13.60" lengthAdjust="spacingAndGlyphs" fill="#000">IgG</text>
<rect x="629.00" y="446.90" width="9.40" height="4.30" fill="#646464" stroke="#111" stroke-width="1.0"/>
<text x="644.10" y="451.80" font-size="7.8" textLength="22.30" lengthAdjust="spacingAndGlyphs" fill="#000">DMSO</text>
<rect x="629.00" y="459.20" width="9.40" height="4.30" fill="#008000" stroke="#111" stroke-width="1.0"/>
<text x="644.10" y="464.10" font-size="7.8" textLength="32.40" lengthAdjust="spacingAndGlyphs" fill="#000">Etoposide</text>
<line x1="38.50" y1="440.40" x2="38.50" y2="500.80" stroke="#000" stroke-width="0.9"/>
<line x1="35.90" y1="500.40" x2="38.50" y2="500.40" stroke="#000" stroke-width="0.8"/>
<text x="36.20" y="502.20" font-size="5.0" text-anchor="end" font-weight="bold" class="tk" fill="#000">0.0</text>
<line x1="35.90" y1="470.40" x2="38.50" y2="470.40" stroke="#000" stroke-width="0.8"/>
<text x="36.20" y="472.20" font-size="5.0" text-anchor="end" font-weight="bold" class="tk" fill="#000">0.1</text>
<line x1="35.90" y1="440.40" x2="38.50" y2="440.40" stroke="#000" stroke-width="0.8"/>
<text x="36.20" y="442.20" font-size="5.0" text-anchor="end" font-weight="bold" class="tk" fill="#000">0.2</text>
<rect x="43.00" y="498.00" width="6.90" height="2.40" fill="#646464" stroke="#111" stroke-width="1.0"/>
<circle cx="44.45" cy="497.70" r="1.15" fill="#000"/>
<circle cx="46.45" cy="498.00" r="1.15" fill="#000"/>
<circle cx="48.45" cy="497.85" r="1.15" fill="#000"/>
<rect x="54.70" y="494.40" width="7.10" height="6.00" fill="#008000" stroke="#111" stroke-width="1.0"/>
<line x1="58.25" y1="494.40" x2="58.25" y2="492.90" stroke="#111" stroke-width="0.7"/>
<line x1="56.65" y1="492.90" x2="59.85" y2="492.90" stroke="#111" stroke-width="0.7"/>
<circle cx="56.25" cy="494.10" r="1.15" fill="#000"/>
<circle cx="58.25" cy="492.90" r="1.15" fill="#000"/>
<circle cx="60.25" cy="494.40" r="1.15" fill="#000"/>
<rect x="74.40" y="498.90" width="7.10" height="1.50" fill="#646464" stroke="#111" stroke-width="1.0"/>
<circle cx="75.95" cy="498.60" r="1.15" fill="#000"/>
<circle cx="77.95" cy="498.90" r="1.15" fill="#000"/>
<circle cx="79.95" cy="498.60" r="1.15" fill="#000"/>
<rect x="86.10" y="496.20" width="6.70" height="4.20" fill="#008000" stroke="#111" stroke-width="1.0"/>
<line x1="89.45" y1="496.20" x2="89.45" y2="495.30" stroke="#111" stroke-width="0.7"/>
<line x1="87.85" y1="495.30" x2="91.05" y2="495.30" stroke="#111" stroke-width="0.7"/>
<circle cx="87.45" cy="496.20" r="1.15" fill="#000"/>
<circle cx="89.45" cy="495.30" r="1.15" fill="#000"/>
<circle cx="91.45" cy="496.50" r="1.15" fill="#000"/>
<rect x="105.10" y="498.30" width="7.30" height="2.10" fill="#646464" stroke="#111" stroke-width="1.0"/>
<circle cx="106.75" cy="498.00" r="1.15" fill="#000"/>
<circle cx="108.75" cy="497.70" r="1.15" fill="#000"/>
<circle cx="110.75" cy="498.30" r="1.15" fill="#000"/>
<rect x="116.80" y="498.00" width="7.10" height="2.40" fill="#008000" stroke="#111" stroke-width="1.0"/>
<circle cx="118.35" cy="497.70" r="1.15" fill="#000"/>
<circle cx="120.35" cy="497.40" r="1.15" fill="#000"/>
<circle cx="122.35" cy="498.00" r="1.15" fill="#000"/>
<line x1="38.05" y1="500.40" x2="127.90" y2="500.40" stroke="#000" stroke-width="0.9"/>
<line x1="51.80" y1="500.40" x2="51.80" y2="503.00" stroke="#000" stroke-width="0.8"/>
<line x1="83.40" y1="500.40" x2="83.40" y2="503.00" stroke="#000" stroke-width="0.8"/>
<line x1="114.30" y1="500.40" x2="114.30" y2="503.00" stroke="#000" stroke-width="0.8"/>
<text x="43.40" y="512.30" font-size="7.8" text-anchor="middle" textLength="13.50" lengthAdjust="spacingAndGlyphs" fill="#000">Ctrl</text>
<text x="78.50" y="512.30" font-size="7.8" text-anchor="middle" textLength="35.90" lengthAdjust="spacingAndGlyphs" fill="#000">ATRX_KO</text>
<text x="120.40" y="512.30" font-size="7.8" text-anchor="middle" textLength="36.60" lengthAdjust="spacingAndGlyphs" fill="#000">DAXX_KO</text>
<text x="86.30" y="451.50" font-size="7.5" text-anchor="middle" font-weight="bold" textLength="45.30" lengthAdjust="spacingAndGlyphs" fill="#000">p21 promoter</text>
<text x="24.60" y="470.00" font-size="6.0" text-anchor="middle" transform="rotate(-90 24.60 470.00)" textLength="20.50" lengthAdjust="spacingAndGlyphs" fill="#000">% input</text>
<line x1="157.40" y1="439.10" x2="157.40" y2="501.70" stroke="#000" stroke-width="0.9"/>
<line x1="154.80" y1="501.30" x2="157.40" y2="501.30" stroke="#000" stroke-width="0.8"/>
<text x="155.10" y="503.10" font-size="5.0" text-anchor="end" font-weight="bold" class="tk" fill="#000">0.00</text>
<line x1="154.80" y1="470.20" x2="157.40" y2="470.20" stroke="#000" stroke-width="0.8"/>
<text x="155.10" y="472.00" font-size="5.0" text-anchor="end" font-weight="bold" class="tk" fill="#000">0.01</text>
<line x1="154.80" y1="439.10" x2="157.40" y2="439.10" stroke="#000" stroke-width="0.8"/>
<text x="155.10" y="440.90" font-size="5.0" text-anchor="end" font-weight="bold" class="tk" fill="#000">0.02</text>
<rect x="162.20" y="500.37" width="7.10" height="0.93" fill="#646464" stroke="#111" stroke-width="1.0"/>
<circle cx="163.75" cy="500.06" r="1.15" fill="#000"/>
<circle cx="165.75" cy="499.75" r="1.15" fill="#000"/>
<circle cx="167.75" cy="500.37" r="1.15" fill="#000"/>
<rect x="174.40" y="499.43" width="7.10" height="1.87" fill="#008000" stroke="#111" stroke-width="1.0"/>
<line x1="177.95" y1="499.43" x2="177.95" y2="497.57" stroke="#111" stroke-width="0.7"/>
<line x1="176.35" y1="497.57" x2="179.55" y2="497.57" stroke="#111" stroke-width="0.7"/>
<circle cx="175.95" cy="499.43" r="1.15" fill="#000"/>
<circle cx="177.95" cy="497.57" r="1.15" fill="#000"/>
<circle cx="179.95" cy="499.75" r="1.15" fill="#000"/>
<rect x="194.20" y="500.99" width="7.10" height="0.31" fill="#646464" stroke="#111" stroke-width="1.0"/>
<circle cx="195.75" cy="500.68" r="1.15" fill="#000"/>
<circle cx="197.75" cy="501.30" r="1.15" fill="#000"/>
<circle cx="199.75" cy="500.68" r="1.15" fill="#000"/>
<rect x="206.20" y="500.06" width="7.10" height="1.24" fill="#008000" stroke="#111" stroke-width="1.0"/>
<line x1="209.75" y1="500.06" x2="209.75" y2="498.81" stroke="#111" stroke-width="0.7"/>
<line x1="208.15" y1="498.81" x2="211.35" y2="498.81" stroke="#111" stroke-width="0.7"/>
<circle cx="207.75" cy="500.37" r="1.15" fill="#000"/>
<circle cx="209.75" cy="498.81" r="1.15" fill="#000"/>
<circle cx="211.75" cy="500.37" r="1.15" fill="#000"/>
<rect x="225.70" y="500.68" width="7.10" height="0.62" fill="#646464" stroke="#111" stroke-width="1.0"/>
<circle cx="227.25" cy="500.06" r="1.15" fill="#000"/>
<circle cx="229.25" cy="500.99" r="1.15" fill="#000"/>
<circle cx="231.25" cy="500.68" r="1.15" fill="#000"/>
<rect x="237.70" y="499.43" width="7.10" height="1.87" fill="#008000" stroke="#111" stroke-width="1.0"/>
<circle cx="239.25" cy="499.12" r="1.15" fill="#000"/>
<circle cx="241.25" cy="498.81" r="1.15" fill="#000"/>
<circle cx="243.25" cy="499.43" r="1.15" fill="#000"/>
<line x1="156.95" y1="501.30" x2="250.40" y2="501.30" stroke="#000" stroke-width="0.9"/>
<line x1="172.00" y1="501.30" x2="172.00" y2="503.90" stroke="#000" stroke-width="0.8"/>
<line x1="203.80" y1="501.30" x2="203.80" y2="503.90" stroke="#000" stroke-width="0.8"/>
<line x1="235.50" y1="501.30" x2="235.50" y2="503.90" stroke="#000" stroke-width="0.8"/>
<text x="165.20" y="512.30" font-size="7.8" text-anchor="middle" textLength="13.40" lengthAdjust="spacingAndGlyphs" fill="#000">Ctrl</text>
<text x="201.30" y="512.30" font-size="7.8" text-anchor="middle" textLength="34.30" lengthAdjust="spacingAndGlyphs" fill="#000">ATRX_KO</text>
<text x="242.00" y="512.30" font-size="7.8" text-anchor="middle" textLength="36.70" lengthAdjust="spacingAndGlyphs" fill="#000">DAXX_KO</text>
<text x="208.00" y="451.60" font-size="7.5" text-anchor="middle" font-weight="bold" textLength="33.70" lengthAdjust="spacingAndGlyphs" fill="#000">GADD45A</text>
<text x="141.20" y="469.50" font-size="6.0" text-anchor="middle" transform="rotate(-90 141.20 469.50)" textLength="20.50" lengthAdjust="spacingAndGlyphs" fill="#000">% input</text>
<line x1="290.50" y1="442.60" x2="290.50" y2="501.00" stroke="#000" stroke-width="0.9"/>
<line x1="287.90" y1="500.60" x2="290.50" y2="500.60" stroke="#000" stroke-width="0.8"/>
<text x="288.20" y="502.40" font-size="5.0" text-anchor="end" font-weight="bold" class="tk" fill="#000">0.00</text>
<line x1="287.90" y1="471.60" x2="290.50" y2="471.60" stroke="#000" stroke-width="0.8"/>
<text x="288.20" y="473.40" font-size="5.0" text-anchor="end" font-weight="bold" class="tk" fill="#000">0.01</text>
<line x1="287.90" y1="442.60" x2="290.50" y2="442.60" stroke="#000" stroke-width="0.8"/>
<text x="288.20" y="444.40" font-size="5.0" text-anchor="end" font-weight="bold" class="tk" fill="#000">0.02</text>
<rect x="294.70" y="497.70" width="6.90" height="2.90" fill="#646464" stroke="#111" stroke-width="1.0"/>
<circle cx="296.15" cy="497.41" r="1.15" fill="#000"/>
<circle cx="298.15" cy="497.12" r="1.15" fill="#000"/>
<circle cx="300.15" cy="497.70" r="1.15" fill="#000"/>
<rect x="306.00" y="495.38" width="7.00" height="5.22" fill="#008000" stroke="#111" stroke-width="1.0"/>
<circle cx="307.50" cy="495.09" r="1.15" fill="#000"/>
<circle cx="309.50" cy="494.51" r="1.15" fill="#000"/>
<circle cx="311.50" cy="495.38" r="1.15" fill="#000"/>
<rect x="324.70" y="498.86" width="7.10" height="1.74" fill="#646464" stroke="#111" stroke-width="1.0"/>
<circle cx="326.25" cy="498.57" r="1.15" fill="#000"/>
<circle cx="328.25" cy="497.99" r="1.15" fill="#000"/>
<circle cx="330.25" cy="498.86" r="1.15" fill="#000"/>
<rect x="336.00" y="497.41" width="7.00" height="3.19" fill="#008000" stroke="#111" stroke-width="1.0"/>
<circle cx="337.50" cy="497.41" r="1.15" fill="#000"/>
<circle cx="339.50" cy="496.83" r="1.15" fill="#000"/>
<circle cx="341.50" cy="497.70" r="1.15" fill="#000"/>
<rect x="355.20" y="498.57" width="7.00" height="2.03" fill="#646464" stroke="#111" stroke-width="1.0"/>
<circle cx="356.70" cy="498.57" r="1.15" fill="#000"/>
<circle cx="358.70" cy="497.99" r="1.15" fill="#000"/>
<circle cx="360.70" cy="498.86" r="1.15" fill="#000"/>
<rect x="366.60" y="497.99" width="7.10" height="2.61" fill="#008000" stroke="#111" stroke-width="1.0"/>
<circle cx="368.15" cy="497.99" r="1.15" fill="#000"/>
<circle cx="370.15" cy="497.70" r="1.15" fill="#000"/>
<circle cx="372.15" cy="498.28" r="1.15" fill="#000"/>
<line x1="290.05" y1="500.60" x2="376.90" y2="500.60" stroke="#000" stroke-width="0.9"/>
<line x1="303.40" y1="500.60" x2="303.40" y2="503.20" stroke="#000" stroke-width="0.8"/>
<line x1="333.30" y1="500.60" x2="333.30" y2="503.20" stroke="#000" stroke-width="0.8"/>
<line x1="363.90" y1="500.60" x2="363.90" y2="503.20" stroke="#000" stroke-width="0.8"/>
<text x="294.60" y="512.60" font-size="7.8" text-anchor="middle" textLength="13.40" lengthAdjust="spacingAndGlyphs" fill="#000">Ctrl</text>
<text x="330.40" y="512.60" font-size="7.8" text-anchor="middle" textLength="36.10" lengthAdjust="spacingAndGlyphs" fill="#000">ATRX_KO</text>
<text x="371.70" y="512.60" font-size="7.8" text-anchor="middle" textLength="37.30" lengthAdjust="spacingAndGlyphs" fill="#000">DAXX_KO</text>
<text x="337.40" y="452.50" font-size="7.5" text-anchor="middle" font-weight="bold" textLength="57.10" lengthAdjust="spacingAndGlyphs" fill="#000">18q subtelomere</text>
<text x="275.40" y="471.60" font-size="6.0" text-anchor="middle" transform="rotate(-90 275.40 471.60)" textLength="20.10" lengthAdjust="spacingAndGlyphs" fill="#000">% input</text>
<line x1="416.40" y1="446.30" x2="416.40" y2="504.80" stroke="#000" stroke-width="0.9"/>
<line x1="413.80" y1="504.40" x2="416.40" y2="504.40" stroke="#000" stroke-width="0.8"/>
<text x="414.10" y="506.20" font-size="5.0" text-anchor="end" font-weight="bold" class="tk" fill="#000">0.00</text>
<line x1="413.80" y1="475.35" x2="416.40" y2="475.35" stroke="#000" stroke-width="0.8"/>
<text x="414.10" y="477.15" font-size="5.0" text-anchor="end" font-weight="bold" class="tk" fill="#000">0.01</text>
<line x1="413.80" y1="446.30" x2="416.40" y2="446.30" stroke="#000" stroke-width="0.8"/>
<text x="414.10" y="448.10" font-size="5.0" text-anchor="end" font-weight="bold" class="tk" fill="#000">0.02</text>
<rect x="420.60" y="501.50" width="6.90" height="2.90" fill="#646464" stroke="#111" stroke-width="1.0"/>
<circle cx="422.05" cy="501.20" r="1.15" fill="#000"/>
<circle cx="424.05" cy="500.62" r="1.15" fill="#000"/>
<circle cx="426.05" cy="501.50" r="1.15" fill="#000"/>
<rect x="431.90" y="499.17" width="6.90" height="5.23" fill="#008000" stroke="#111" stroke-width="1.0"/>
<circle cx="433.35" cy="498.88" r="1.15" fill="#000"/>
<circle cx="435.35" cy="498.59" r="1.15" fill="#000"/>
<circle cx="437.35" cy="499.17" r="1.15" fill="#000"/>
<rect x="451.50" y="502.66" width="6.70" height="1.74" fill="#646464" stroke="#111" stroke-width="1.0"/>
<circle cx="452.85" cy="502.37" r="1.15" fill="#000"/>
<circle cx="454.85" cy="501.79" r="1.15" fill="#000"/>
<circle cx="456.85" cy="502.66" r="1.15" fill="#000"/>
<rect x="462.50" y="500.91" width="6.50" height="3.49" fill="#008000" stroke="#111" stroke-width="1.0"/>
<circle cx="463.75" cy="500.91" r="1.15" fill="#000"/>
<circle cx="465.75" cy="500.62" r="1.15" fill="#000"/>
<circle cx="467.75" cy="501.20" r="1.15" fill="#000"/>
<rect x="481.50" y="502.08" width="6.60" height="2.32" fill="#646464" stroke="#111" stroke-width="1.0"/>
<circle cx="482.80" cy="502.08" r="1.15" fill="#000"/>
<circle cx="484.80" cy="501.50" r="1.15" fill="#000"/>
<circle cx="486.80" cy="502.37" r="1.15" fill="#000"/>
<rect x="492.50" y="502.08" width="6.90" height="2.32" fill="#008000" stroke="#111" stroke-width="1.0"/>
<circle cx="493.95" cy="502.08" r="1.15" fill="#000"/>
<circle cx="495.95" cy="501.79" r="1.15" fill="#000"/>
<circle cx="497.95" cy="502.37" r="1.15" fill="#000"/>
<line x1="415.95" y1="504.40" x2="502.80" y2="504.40" stroke="#000" stroke-width="0.9"/>
<line x1="430.00" y1="504.40" x2="430.00" y2="507.00" stroke="#000" stroke-width="0.8"/>
<line x1="460.80" y1="504.40" x2="460.80" y2="507.00" stroke="#000" stroke-width="0.8"/>
<line x1="491.00" y1="504.40" x2="491.00" y2="507.00" stroke="#000" stroke-width="0.8"/>
<text x="421.90" y="514.40" font-size="7.8" text-anchor="middle" textLength="13.50" lengthAdjust="spacingAndGlyphs" fill="#000">Ctrl</text>
<text x="457.60" y="514.40" font-size="7.8" text-anchor="middle" textLength="36.70" lengthAdjust="spacingAndGlyphs" fill="#000">ATRX_KO</text>
<text x="498.90" y="514.40" font-size="7.8" text-anchor="middle" textLength="37.50" lengthAdjust="spacingAndGlyphs" fill="#000">DAXX_KO</text>
<text x="467.90" y="452.90" font-size="7.5" text-anchor="middle" font-weight="bold" textLength="56.50" lengthAdjust="spacingAndGlyphs" fill="#000">13q subtelomere</text>
<text x="401.20" y="474.60" font-size="6.0" text-anchor="middle" transform="rotate(-90 401.20 474.60)" textLength="19.30" lengthAdjust="spacingAndGlyphs" fill="#000">% input</text>
<line x1="535.00" y1="442.40" x2="535.00" y2="504.80" stroke="#000" stroke-width="0.9"/>
<line x1="532.40" y1="504.40" x2="535.00" y2="504.40" stroke="#000" stroke-width="0.8"/>
<text x="532.70" y="506.20" font-size="5.0" text-anchor="end" font-weight="bold" class="tk" fill="#000">0.0</text>
<line x1="532.40" y1="473.40" x2="535.00" y2="473.40" stroke="#000" stroke-width="0.8"/>
<text x="532.70" y="475.20" font-size="5.0" text-anchor="end" font-weight="bold" class="tk" fill="#000">0.5</text>
<line x1="532.40" y1="442.40" x2="535.00" y2="442.40" stroke="#000" stroke-width="0.8"/>
<text x="532.70" y="444.20" font-size="5.0" text-anchor="end" font-weight="bold" class="tk" fill="#000">1.0</text>
<rect x="539.10" y="501.30" width="7.40" height="3.10" fill="#646464" stroke="#111" stroke-width="1.0"/>
<circle cx="540.80" cy="501.30" r="1.15" fill="#000"/>
<circle cx="542.80" cy="498.20" r="1.15" fill="#000"/>
<circle cx="544.80" cy="501.92" r="1.15" fill="#000"/>
<rect x="551.30" y="499.44" width="7.10" height="4.96" fill="#008000" stroke="#111" stroke-width="1.0"/>
<circle cx="552.85" cy="499.44" r="1.15" fill="#000"/>
<circle cx="554.85" cy="499.13" r="1.15" fill="#000"/>
<circle cx="556.85" cy="500.06" r="1.15" fill="#000"/>
<rect x="571.50" y="503.47" width="6.40" height="0.93" fill="#646464" stroke="#111" stroke-width="1.0"/>
<circle cx="572.70" cy="503.16" r="1.15" fill="#000"/>
<circle cx="574.70" cy="503.47" r="1.15" fill="#000"/>
<circle cx="576.70" cy="503.16" r="1.15" fill="#000"/>
<rect x="583.60" y="500.68" width="7.40" height="3.72" fill="#008000" stroke="#111" stroke-width="1.0"/>
<line x1="587.30" y1="500.68" x2="587.30" y2="498.20" stroke="#111" stroke-width="0.7"/>
<line x1="585.70" y1="498.20" x2="588.90" y2="498.20" stroke="#111" stroke-width="0.7"/>
<circle cx="585.30" cy="500.68" r="1.15" fill="#000"/>
<circle cx="587.30" cy="496.96" r="1.15" fill="#000"/>
<circle cx="589.30" cy="501.30" r="1.15" fill="#000"/>
<rect x="603.30" y="499.44" width="7.40" height="4.96" fill="#646464" stroke="#111" stroke-width="1.0"/>
<circle cx="605.00" cy="499.44" r="1.15" fill="#000"/>
<circle cx="607.00" cy="498.82" r="1.15" fill="#000"/>
<circle cx="609.00" cy="500.06" r="1.15" fill="#000"/>
<rect x="615.20" y="504.40" width="7.10" height="0.10" fill="#008000" stroke="#111" stroke-width="1.0"/>
<line x1="534.55" y1="504.40" x2="626.80" y2="504.40" stroke="#000" stroke-width="0.9"/>
<line x1="549.00" y1="504.40" x2="549.00" y2="507.00" stroke="#000" stroke-width="0.8"/>
<line x1="581.00" y1="504.40" x2="581.00" y2="507.00" stroke="#000" stroke-width="0.8"/>
<line x1="613.00" y1="504.40" x2="613.00" y2="507.00" stroke="#000" stroke-width="0.8"/>
<text x="539.20" y="514.40" font-size="7.8" text-anchor="middle" textLength="13.50" lengthAdjust="spacingAndGlyphs" fill="#000">Ctrl</text>
<text x="574.70" y="514.40" font-size="7.8" text-anchor="middle" textLength="36.40" lengthAdjust="spacingAndGlyphs" fill="#000">ATRX_KO</text>
<text x="616.50" y="514.40" font-size="7.8" text-anchor="middle" textLength="37.70" lengthAdjust="spacingAndGlyphs" fill="#000">DAXX_KO</text>
<text x="582.20" y="450.90" font-size="7.5" text-anchor="middle" font-weight="bold" textLength="23.70" lengthAdjust="spacingAndGlyphs" fill="#000">TMCC1</text>
<text x="521.80" y="473.40" font-size="6.0" text-anchor="middle" transform="rotate(-90 521.80 473.40)" textLength="21.80" lengthAdjust="spacingAndGlyphs" fill="#000">% input</text>
</svg>
</body></html>
